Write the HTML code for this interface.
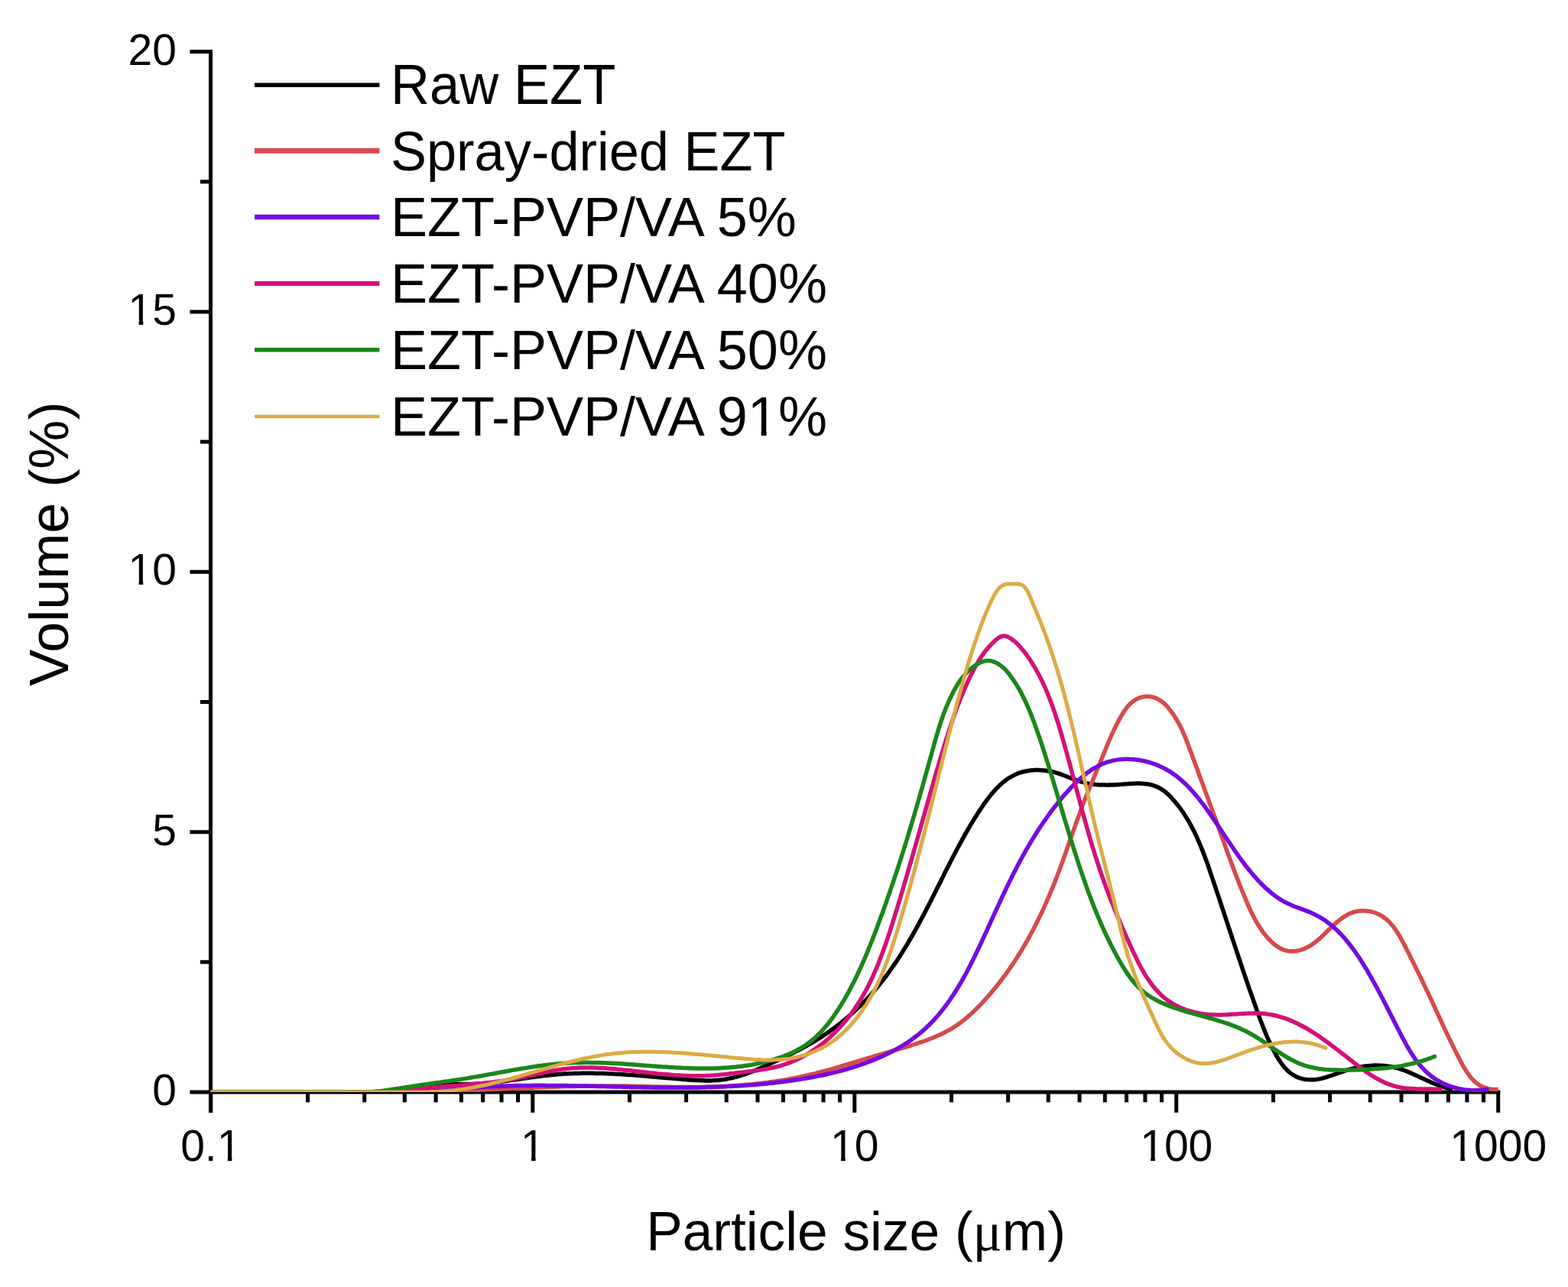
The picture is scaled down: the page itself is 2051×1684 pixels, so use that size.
<!DOCTYPE html>
<html><head><meta charset="utf-8"><style>html,body{margin:0;padding:0;background:#fff;overflow:hidden}svg{display:block}</style></head>
<body><svg xmlns="http://www.w3.org/2000/svg" width="2051" height="1684" viewBox="0 0 2051 1684"><defs><clipPath id="plotclip"><rect x="275.5" y="60" width="1684.2" height="1369"/></clipPath><clipPath id="c1"><rect x="-1832.4013671875" y="-1234.6999999999998" width="4000" height="1994.74"/><rect x="-1832.4013671875" y="760.04" width="2003.14" height="2000"/><rect x="181.63" y="760.04" width="5.64" height="2000"/><rect x="197.72" y="760.04" width="2000" height="2000"/><rect x="-1832.4013671875" y="766.80" width="4000" height="2000"/></clipPath><clipPath id="c2"><rect x="-1832.4013671875" y="-1575.05" width="4000" height="1994.74"/><rect x="-1832.4013671875" y="419.69" width="2003.14" height="2000"/><rect x="181.63" y="419.69" width="5.64" height="2000"/><rect x="197.72" y="419.69" width="2000" height="2000"/><rect x="-1832.4013671875" y="426.45" width="4000" height="2000"/></clipPath><clipPath id="c3"><rect x="-1763.818896484375" y="-481" width="4000" height="1994.74"/><rect x="-1763.818896484375" y="1513.74" width="2050.67" height="2000"/><rect x="297.74" y="1513.74" width="5.64" height="2000"/><rect x="313.83" y="1513.74" width="2000" height="2000"/><rect x="-1763.818896484375" y="1520.50" width="4000" height="2000"/></clipPath><clipPath id="c4"><rect x="-1319.070341796875" y="-481" width="4000" height="1994.74"/><rect x="-1319.070341796875" y="1513.74" width="2003.14" height="2000"/><rect x="694.96" y="1513.74" width="5.64" height="2000"/><rect x="711.05" y="1513.74" width="2000" height="2000"/><rect x="-1319.070341796875" y="1520.50" width="4000" height="2000"/></clipPath><clipPath id="c5"><rect x="-913.94068359375" y="-481" width="4000" height="1994.74"/><rect x="-913.94068359375" y="1513.74" width="2003.14" height="2000"/><rect x="1100.09" y="1513.74" width="5.64" height="2000"/><rect x="1116.18" y="1513.74" width="2000" height="2000"/><rect x="-913.94068359375" y="1520.50" width="4000" height="2000"/></clipPath><clipPath id="c6"><rect x="-508.811025390625" y="-481" width="4000" height="1994.74"/><rect x="-508.811025390625" y="1513.74" width="2003.14" height="2000"/><rect x="1505.22" y="1513.74" width="5.64" height="2000"/><rect x="1521.31" y="1513.74" width="2000" height="2000"/><rect x="-508.811025390625" y="1520.50" width="4000" height="2000"/></clipPath><clipPath id="c7"><rect x="-103.68136718749997" y="-481" width="4000" height="1994.74"/><rect x="-103.68136718749997" y="1513.74" width="2003.14" height="2000"/><rect x="1910.35" y="1513.74" width="5.64" height="2000"/><rect x="1926.44" y="1513.74" width="2000" height="2000"/><rect x="-103.68136718749997" y="1520.50" width="4000" height="2000"/></clipPath><clipPath id="c8"><rect x="-1489" y="-1430.2" width="4000" height="1993.62"/><rect x="-1489" y="563.42" width="2471.11" height="2000"/><rect x="995.63" y="563.42" width="6.96" height="2000"/><rect x="1015.56" y="563.42" width="2000" height="2000"/><rect x="-1489" y="571.30" width="4000" height="2000"/></clipPath></defs>
<rect width="100%" height="100%" fill="#fff"/>
<g stroke="#000" stroke-width="5" fill="none" stroke-linecap="butt">
<line x1="275.5" y1="65" x2="275.5" y2="1456"/>
<line x1="273" y1="1429" x2="1962.3" y2="1429"/>
<line x1="248.4" y1="1429.0" x2="275.5" y2="1429.0"/>
<line x1="248.4" y1="1088.7" x2="275.5" y2="1088.7"/>
<line x1="248.4" y1="748.3" x2="275.5" y2="748.3"/>
<line x1="248.4" y1="408.0" x2="275.5" y2="408.0"/>
<line x1="248.4" y1="67.6" x2="275.5" y2="67.6"/>
<line x1="262" y1="1258.8" x2="275.5" y2="1258.8"/>
<line x1="262" y1="918.5" x2="275.5" y2="918.5"/>
<line x1="262" y1="578.1" x2="275.5" y2="578.1"/>
<line x1="262" y1="237.8" x2="275.5" y2="237.8"/>
<line x1="275.8" y1="1429" x2="275.8" y2="1455.8"/>
<line x1="402.5" y1="1429" x2="402.5" y2="1442.3"/>
<line x1="476.7" y1="1429" x2="476.7" y2="1442.3"/>
<line x1="529.3" y1="1429" x2="529.3" y2="1442.3"/>
<line x1="570.1" y1="1429" x2="570.1" y2="1442.3"/>
<line x1="603.4" y1="1429" x2="603.4" y2="1442.3"/>
<line x1="631.6" y1="1429" x2="631.6" y2="1442.3"/>
<line x1="656.0" y1="1429" x2="656.0" y2="1442.3"/>
<line x1="677.5" y1="1429" x2="677.5" y2="1442.3"/>
<line x1="696.8" y1="1429" x2="696.8" y2="1455.8"/>
<line x1="823.5" y1="1429" x2="823.5" y2="1442.3"/>
<line x1="897.6" y1="1429" x2="897.6" y2="1442.3"/>
<line x1="950.2" y1="1429" x2="950.2" y2="1442.3"/>
<line x1="991.0" y1="1429" x2="991.0" y2="1442.3"/>
<line x1="1024.4" y1="1429" x2="1024.4" y2="1442.3"/>
<line x1="1052.5" y1="1429" x2="1052.5" y2="1442.3"/>
<line x1="1077.0" y1="1429" x2="1077.0" y2="1442.3"/>
<line x1="1098.5" y1="1429" x2="1098.5" y2="1442.3"/>
<line x1="1117.8" y1="1429" x2="1117.8" y2="1455.8"/>
<line x1="1244.5" y1="1429" x2="1244.5" y2="1442.3"/>
<line x1="1318.6" y1="1429" x2="1318.6" y2="1442.3"/>
<line x1="1371.2" y1="1429" x2="1371.2" y2="1442.3"/>
<line x1="1412.0" y1="1429" x2="1412.0" y2="1442.3"/>
<line x1="1445.3" y1="1429" x2="1445.3" y2="1442.3"/>
<line x1="1473.5" y1="1429" x2="1473.5" y2="1442.3"/>
<line x1="1497.9" y1="1429" x2="1497.9" y2="1442.3"/>
<line x1="1519.5" y1="1429" x2="1519.5" y2="1442.3"/>
<line x1="1538.7" y1="1429" x2="1538.7" y2="1455.8"/>
<line x1="1665.5" y1="1429" x2="1665.5" y2="1442.3"/>
<line x1="1739.6" y1="1429" x2="1739.6" y2="1442.3"/>
<line x1="1792.2" y1="1429" x2="1792.2" y2="1442.3"/>
<line x1="1833.0" y1="1429" x2="1833.0" y2="1442.3"/>
<line x1="1866.3" y1="1429" x2="1866.3" y2="1442.3"/>
<line x1="1894.5" y1="1429" x2="1894.5" y2="1442.3"/>
<line x1="1918.9" y1="1429" x2="1918.9" y2="1442.3"/>
<line x1="1940.5" y1="1429" x2="1940.5" y2="1442.3"/>
<line x1="1959.7" y1="1429" x2="1959.7" y2="1455.8"/>
</g>
<g clip-path="url(#plotclip)"><path d="M276.0,1429.0 L279.1,1429.0 L282.2,1429.0 L285.3,1429.0 L288.5,1429.0 L291.6,1429.0 L294.7,1429.0 L297.8,1429.0 L300.9,1429.0 L304.0,1429.0 L307.2,1429.0 L310.3,1429.0 L313.4,1429.0 L316.5,1429.0 L319.6,1429.0 L322.7,1429.0 L325.9,1429.0 L329.0,1429.0 L332.1,1429.0 L335.2,1429.0 L338.3,1429.0 L341.4,1429.0 L344.5,1429.0 L347.7,1429.0 L350.8,1429.0 L353.9,1429.0 L357.0,1429.0 L360.1,1429.0 L363.2,1429.0 L366.4,1429.0 L369.5,1429.0 L372.6,1429.0 L375.7,1429.0 L378.8,1429.0 L381.9,1429.0 L385.1,1429.0 L388.2,1429.0 L391.3,1429.0 L394.4,1429.0 L397.5,1429.0 L400.6,1429.0 L403.7,1429.0 L406.9,1429.0 L410.0,1429.0 L413.1,1429.0 L416.2,1429.0 L419.3,1429.0 L422.4,1429.0 L425.6,1429.0 L428.7,1429.0 L431.8,1429.0 L434.9,1429.0 L438.0,1429.0 L441.1,1429.0 L444.3,1429.0 L447.4,1429.0 L450.5,1429.0 L453.6,1429.0 L456.7,1429.0 L459.8,1429.0 L462.9,1429.0 L466.1,1429.0 L469.2,1429.0 L472.3,1429.0 L475.4,1429.0 L478.5,1429.0 L481.6,1429.0 L484.8,1429.0 L487.9,1429.0 L491.0,1429.0 L494.1,1429.0 L497.2,1429.0 L500.3,1428.9 L503.4,1428.8 L506.5,1428.8 L509.7,1428.6 L512.8,1428.5 L515.9,1428.2 L519.0,1428.0 L522.1,1427.7 L525.2,1427.3 L528.2,1426.9 L531.3,1426.4 L534.4,1425.8 L537.5,1425.2 L540.6,1424.5 L543.6,1423.9 L546.7,1423.2 L549.8,1422.5 L552.9,1421.9 L556.0,1421.3 L559.0,1420.8 L562.1,1420.3 L565.2,1419.9 L568.3,1419.6 L571.4,1419.3 L574.5,1419.1 L577.6,1418.9 L580.7,1418.8 L583.8,1418.7 L586.9,1418.7 L590.0,1418.7 L593.2,1418.7 L596.3,1418.7 L599.4,1418.7 L602.5,1418.7 L605.6,1418.7 L608.7,1418.6 L611.8,1418.6 L615.0,1418.5 L618.1,1418.5 L621.2,1418.3 L624.3,1418.2 L627.4,1418.0 L630.5,1417.8 L633.6,1417.5 L636.7,1417.3 L639.8,1417.0 L642.9,1416.7 L646.1,1416.3 L649.2,1416.0 L652.3,1415.6 L655.4,1415.2 L658.5,1414.8 L661.6,1414.4 L664.7,1414.0 L667.8,1413.6 L670.9,1413.1 L674.0,1412.7 L677.1,1412.3 L680.2,1411.8 L683.3,1411.4 L686.4,1410.9 L689.5,1410.5 L692.6,1410.1 L695.7,1409.6 L698.8,1409.2 L701.9,1408.8 L705.0,1408.4 L708.1,1408.0 L711.2,1407.6 L714.3,1407.3 L717.4,1406.9 L720.5,1406.6 L723.6,1406.3 L726.6,1406.0 L729.7,1405.7 L732.8,1405.5 L735.9,1405.3 L739.0,1405.1 L742.1,1404.9 L745.2,1404.8 L748.3,1404.7 L751.4,1404.5 L754.5,1404.5 L757.6,1404.4 L760.7,1404.3 L763.8,1404.3 L766.8,1404.3 L769.9,1404.3 L773.0,1404.3 L776.1,1404.3 L779.2,1404.4 L782.3,1404.5 L785.4,1404.5 L788.5,1404.6 L791.6,1404.7 L794.7,1404.8 L797.8,1405.0 L800.9,1405.1 L804.0,1405.3 L807.1,1405.4 L810.2,1405.6 L813.3,1405.8 L816.4,1406.0 L819.5,1406.2 L822.6,1406.4 L825.7,1406.6 L828.8,1406.8 L831.9,1407.1 L835.0,1407.3 L838.1,1407.6 L841.2,1407.8 L844.3,1408.1 L847.4,1408.3 L850.5,1408.6 L853.6,1408.9 L856.7,1409.1 L859.9,1409.4 L863.0,1409.7 L866.1,1409.9 L869.2,1410.2 L872.3,1410.5 L875.5,1410.8 L878.6,1411.0 L881.7,1411.3 L884.8,1411.6 L888.0,1411.8 L891.1,1412.1 L894.2,1412.4 L897.3,1412.6 L900.5,1412.9 L903.6,1413.1 L906.7,1413.3 L909.9,1413.5 L913.0,1413.6 L916.1,1413.7 L919.2,1413.8 L922.3,1413.9 L925.4,1413.9 L928.5,1413.9 L931.6,1413.8 L934.7,1413.6 L937.8,1413.4 L940.8,1413.2 L943.9,1412.8 L947.0,1412.4 L950.0,1412.0 L953.0,1411.4 L956.0,1410.8 L959.0,1410.1 L962.0,1409.4 L965.0,1408.5 L967.9,1407.7 L970.9,1406.7 L973.8,1405.8 L976.8,1404.7 L979.7,1403.7 L982.6,1402.5 L985.5,1401.4 L988.4,1400.2 L991.3,1399.0 L994.2,1397.8 L997.0,1396.5 L999.9,1395.2 L1002.8,1394.0 L1005.6,1392.7 L1008.5,1391.4 L1011.3,1390.1 L1014.1,1388.8 L1016.9,1387.5 L1019.8,1386.2 L1022.6,1384.8 L1025.4,1383.5 L1028.2,1382.2 L1030.9,1380.9 L1033.7,1379.5 L1036.5,1378.2 L1039.2,1376.8 L1042.0,1375.4 L1044.7,1374.0 L1047.5,1372.5 L1050.2,1371.1 L1052.9,1369.6 L1055.6,1368.1 L1058.3,1366.6 L1060.9,1365.0 L1063.6,1363.5 L1066.2,1361.9 L1068.9,1360.2 L1071.5,1358.6 L1074.1,1356.9 L1076.7,1355.2 L1079.3,1353.5 L1081.8,1351.7 L1084.4,1349.9 L1086.9,1348.1 L1089.4,1346.3 L1091.9,1344.5 L1094.4,1342.6 L1096.9,1340.7 L1099.3,1338.8 L1101.8,1336.9 L1104.2,1334.9 L1106.6,1332.9 L1108.9,1330.9 L1111.3,1328.9 L1113.6,1326.8 L1115.9,1324.8 L1118.2,1322.7 L1120.5,1320.5 L1122.8,1318.4 L1125.0,1316.2 L1127.2,1314.1 L1129.4,1311.9 L1131.5,1309.6 L1133.7,1307.4 L1135.8,1305.1 L1137.9,1302.9 L1140.0,1300.6 L1142.0,1298.2 L1144.0,1295.9 L1146.0,1293.5 L1148.0,1291.2 L1150.0,1288.8 L1151.9,1286.4 L1153.8,1283.9 L1155.7,1281.5 L1157.6,1279.0 L1159.5,1276.5 L1161.3,1274.1 L1163.1,1271.5 L1164.9,1269.0 L1166.7,1266.5 L1168.5,1263.9 L1170.2,1261.4 L1172.0,1258.8 L1173.7,1256.2 L1175.4,1253.6 L1177.1,1251.0 L1178.7,1248.4 L1180.4,1245.7 L1182.0,1243.1 L1183.7,1240.4 L1185.3,1237.8 L1186.9,1235.1 L1188.5,1232.4 L1190.0,1229.7 L1191.6,1227.0 L1193.2,1224.3 L1194.7,1221.6 L1196.2,1218.9 L1197.8,1216.1 L1199.3,1213.4 L1200.8,1210.7 L1202.3,1207.9 L1203.8,1205.2 L1205.2,1202.4 L1206.7,1199.6 L1208.2,1196.9 L1209.6,1194.1 L1211.1,1191.3 L1212.5,1188.5 L1213.9,1185.8 L1215.4,1183.0 L1216.8,1180.2 L1218.2,1177.4 L1219.6,1174.6 L1221.0,1171.9 L1222.4,1169.1 L1223.8,1166.3 L1225.2,1163.5 L1226.6,1160.7 L1228.0,1157.9 L1229.4,1155.2 L1230.8,1152.4 L1232.2,1149.6 L1233.6,1146.9 L1234.9,1144.1 L1236.3,1141.3 L1237.7,1138.6 L1239.1,1135.8 L1240.5,1133.1 L1241.9,1130.3 L1243.3,1127.6 L1244.7,1124.8 L1246.1,1122.1 L1247.5,1119.4 L1248.9,1116.7 L1250.4,1113.9 L1251.8,1111.2 L1253.3,1108.5 L1254.7,1105.8 L1256.2,1103.1 L1257.7,1100.4 L1259.1,1097.6 L1260.7,1094.9 L1262.2,1092.2 L1263.7,1089.5 L1265.3,1086.8 L1266.8,1084.1 L1268.4,1081.4 L1270.0,1078.7 L1271.6,1076.1 L1273.3,1073.4 L1274.9,1070.7 L1276.6,1068.0 L1278.3,1065.3 L1280.0,1062.6 L1281.8,1059.9 L1283.6,1057.2 L1285.4,1054.5 L1287.2,1051.9 L1289.1,1049.3 L1291.0,1046.7 L1292.9,1044.1 L1294.9,1041.6 L1296.9,1039.1 L1299.0,1036.7 L1301.1,1034.3 L1303.2,1032.0 L1305.4,1029.8 L1307.6,1027.6 L1309.9,1025.5 L1312.3,1023.5 L1314.7,1021.6 L1317.1,1019.8 L1319.6,1018.1 L1322.2,1016.6 L1324.8,1015.1 L1327.5,1013.7 L1330.3,1012.5 L1333.1,1011.4 L1336.1,1010.5 L1339.0,1009.7 L1342.1,1009.0 L1345.1,1008.5 L1348.2,1008.1 L1351.4,1007.8 L1354.6,1007.6 L1357.8,1007.6 L1361.0,1007.7 L1364.2,1007.9 L1367.3,1008.2 L1370.5,1008.7 L1373.7,1009.2 L1376.8,1009.9 L1379.9,1010.7 L1382.9,1011.6 L1385.9,1012.5 L1388.9,1013.6 L1391.8,1014.7 L1394.7,1015.8 L1397.6,1017.0 L1400.5,1018.1 L1403.3,1019.2 L1406.2,1020.3 L1409.1,1021.4 L1412.0,1022.3 L1414.9,1023.2 L1417.8,1023.9 L1420.8,1024.6 L1423.8,1025.2 L1426.8,1025.7 L1429.8,1026.1 L1432.8,1026.5 L1435.9,1026.7 L1438.9,1026.9 L1442.0,1027.1 L1445.1,1027.1 L1448.3,1027.2 L1451.4,1027.1 L1454.6,1027.0 L1457.8,1026.9 L1461.0,1026.7 L1464.2,1026.5 L1467.4,1026.3 L1470.7,1026.0 L1473.9,1025.8 L1477.1,1025.6 L1480.3,1025.4 L1483.5,1025.2 L1486.7,1025.1 L1489.9,1025.1 L1493.0,1025.2 L1496.1,1025.4 L1499.1,1025.7 L1502.1,1026.1 L1506.0,1027.0 L1509.8,1028.1 L1513.4,1029.5 L1516.9,1031.3 L1520.3,1033.4 L1522.8,1035.1 L1525.2,1037.0 L1527.5,1039.1 L1529.7,1041.2 L1531.9,1043.5 L1534.0,1045.8 L1536.1,1048.1 L1538.1,1050.5 L1540.1,1053.0 L1542.0,1055.4 L1543.9,1057.9 L1545.7,1060.5 L1547.5,1063.0 L1549.2,1065.6 L1550.8,1068.2 L1552.5,1070.8 L1554.1,1073.5 L1555.6,1076.1 L1557.1,1078.8 L1558.6,1081.6 L1560.0,1084.3 L1561.5,1087.1 L1562.8,1089.8 L1564.2,1092.6 L1565.5,1095.4 L1566.7,1098.3 L1568.0,1101.1 L1569.2,1104.0 L1570.4,1106.8 L1571.6,1109.7 L1572.8,1112.6 L1573.9,1115.5 L1575.0,1118.4 L1576.1,1121.4 L1577.2,1124.3 L1578.3,1127.2 L1579.3,1130.2 L1580.4,1133.1 L1581.4,1136.1 L1582.4,1139.1 L1583.4,1142.0 L1584.4,1145.0 L1585.4,1148.0 L1586.4,1150.9 L1587.4,1153.9 L1588.4,1156.9 L1589.4,1159.9 L1590.4,1162.8 L1591.4,1165.8 L1592.4,1168.8 L1593.4,1171.7 L1594.4,1174.7 L1595.4,1177.7 L1596.4,1180.7 L1597.3,1183.6 L1598.3,1186.6 L1599.3,1189.6 L1600.3,1192.5 L1601.3,1195.5 L1602.2,1198.5 L1603.2,1201.4 L1604.2,1204.4 L1605.2,1207.4 L1606.2,1210.3 L1607.1,1213.3 L1608.1,1216.2 L1609.1,1219.2 L1610.1,1222.2 L1611.1,1225.1 L1612.0,1228.1 L1613.0,1231.0 L1614.0,1234.0 L1615.0,1236.9 L1616.0,1239.9 L1616.9,1242.8 L1617.9,1245.8 L1618.9,1248.7 L1619.9,1251.7 L1620.9,1254.6 L1621.9,1257.6 L1622.9,1260.5 L1623.8,1263.5 L1624.8,1266.4 L1625.8,1269.3 L1626.8,1272.3 L1627.8,1275.2 L1628.8,1278.1 L1629.8,1281.1 L1630.8,1284.0 L1631.8,1286.9 L1632.8,1289.8 L1633.8,1292.8 L1634.8,1295.7 L1635.9,1298.6 L1636.9,1301.5 L1637.9,1304.4 L1638.9,1307.4 L1639.9,1310.3 L1641.0,1313.2 L1642.0,1316.1 L1643.0,1319.0 L1644.0,1321.9 L1645.1,1324.8 L1646.1,1327.7 L1647.2,1330.6 L1648.2,1333.5 L1649.3,1336.3 L1650.4,1339.2 L1651.5,1342.1 L1652.7,1345.0 L1653.8,1347.9 L1655.0,1350.8 L1656.2,1353.7 L1657.4,1356.6 L1658.7,1359.4 L1660.0,1362.3 L1661.4,1365.2 L1662.8,1368.1 L1664.2,1371.0 L1665.7,1373.9 L1667.2,1376.8 L1668.8,1379.7 L1670.4,1382.6 L1672.1,1385.4 L1673.9,1388.1 L1675.7,1390.8 L1677.6,1393.4 L1679.6,1395.9 L1681.7,1398.3 L1683.9,1400.5 L1686.2,1402.6 L1688.5,1404.5 L1691.0,1406.2 L1694.5,1408.2 L1698.1,1409.9 L1700.9,1410.8 L1703.9,1411.6 L1706.8,1412.2 L1709.8,1412.6 L1712.9,1412.8 L1716.0,1412.8 L1719.0,1412.7 L1722.1,1412.4 L1725.2,1411.9 L1728.2,1411.3 L1731.3,1410.5 L1734.3,1409.7 L1737.3,1408.7 L1740.4,1407.7 L1743.4,1406.7 L1746.4,1405.6 L1749.5,1404.5 L1752.5,1403.4 L1755.5,1402.3 L1758.5,1401.3 L1761.6,1400.4 L1764.6,1399.5 L1767.6,1398.6 L1770.7,1397.9 L1773.7,1397.2 L1776.8,1396.5 L1779.8,1396.0 L1782.8,1395.5 L1785.9,1395.0 L1788.9,1394.7 L1792.0,1394.4 L1795.0,1394.2 L1798.0,1394.1 L1801.1,1394.1 L1804.1,1394.2 L1807.1,1394.3 L1810.1,1394.5 L1813.1,1394.8 L1816.1,1395.2 L1819.1,1395.7 L1822.1,1396.3 L1825.1,1397.0 L1828.0,1397.7 L1831.0,1398.6 L1833.9,1399.5 L1836.8,1400.6 L1839.8,1401.7 L1842.7,1402.9 L1845.6,1404.1 L1848.5,1405.4 L1851.4,1406.7 L1854.3,1408.0 L1857.2,1409.4 L1860.1,1410.8 L1863.0,1412.1 L1865.9,1413.5 L1868.8,1414.8 L1871.7,1416.1 L1874.6,1417.3 L1877.5,1418.5 L1880.4,1419.6 L1883.3,1420.7 L1886.2,1421.7 L1889.2,1422.5 L1892.1,1423.3 L1895.0,1424.0 L1898.0,1424.5 L1898.0,1424.5" fill="none" stroke="#000000" stroke-width="5.5" stroke-linejoin="round" stroke-linecap="round"/>
<path d="M276.0,1429.0 L279.5,1429.0 L282.9,1429.0 L286.4,1429.0 L289.9,1429.0 L293.4,1429.0 L296.8,1429.0 L300.3,1429.0 L303.8,1429.0 L307.2,1429.0 L310.7,1429.0 L314.2,1429.0 L317.7,1429.0 L321.1,1429.0 L324.6,1429.0 L328.1,1429.0 L331.6,1429.0 L335.0,1429.0 L338.5,1429.0 L342.0,1429.0 L345.4,1429.0 L348.9,1429.0 L352.4,1429.0 L355.9,1429.0 L359.3,1429.0 L362.8,1429.0 L366.3,1429.0 L369.7,1429.0 L373.2,1429.0 L376.7,1429.0 L380.2,1429.0 L383.6,1429.0 L387.1,1429.0 L390.6,1429.0 L394.1,1429.0 L397.5,1429.0 L401.0,1429.0 L404.5,1429.0 L407.9,1429.0 L411.4,1429.0 L414.9,1429.0 L418.4,1429.0 L421.8,1429.1 L425.3,1429.1 L428.8,1429.1 L432.2,1429.1 L435.7,1429.1 L439.2,1429.0 L442.7,1429.0 L446.1,1429.0 L449.6,1429.0 L453.1,1429.0 L456.5,1429.0 L460.0,1429.0 L463.5,1429.0 L467.0,1429.0 L470.4,1429.0 L473.9,1429.0 L477.4,1429.0 L480.8,1429.0 L484.3,1429.0 L487.8,1428.9 L491.3,1428.9 L494.7,1428.9 L498.2,1428.9 L501.7,1428.9 L505.1,1428.8 L508.6,1428.8 L512.1,1428.8 L515.6,1428.8 L519.0,1428.7 L522.5,1428.7 L526.0,1428.7 L529.4,1428.6 L532.9,1428.6 L536.4,1428.5 L539.9,1428.5 L543.3,1428.4 L546.8,1428.4 L550.3,1428.3 L553.7,1428.3 L557.2,1428.2 L560.7,1428.1 L564.2,1428.1 L567.6,1428.0 L571.1,1427.9 L574.6,1427.8 L578.0,1427.8 L581.5,1427.7 L585.0,1427.6 L588.5,1427.5 L591.9,1427.4 L595.4,1427.3 L598.9,1427.2 L602.3,1427.1 L605.8,1426.9 L609.3,1426.8 L612.8,1426.7 L616.2,1426.6 L619.7,1426.4 L623.2,1426.3 L626.6,1426.2 L630.1,1426.0 L633.6,1425.9 L637.1,1425.7 L640.5,1425.6 L644.0,1425.5 L647.5,1425.3 L651.0,1425.2 L654.4,1425.0 L657.9,1424.9 L661.4,1424.7 L664.8,1424.6 L668.3,1424.4 L671.8,1424.3 L675.3,1424.1 L678.7,1423.9 L682.2,1423.8 L685.7,1423.7 L689.1,1423.5 L692.6,1423.4 L696.1,1423.2 L699.6,1423.1 L703.0,1422.9 L706.5,1422.8 L710.0,1422.7 L713.4,1422.5 L716.9,1422.4 L720.4,1422.3 L723.8,1422.2 L727.3,1422.0 L730.8,1421.9 L734.2,1421.8 L737.7,1421.7 L741.2,1421.6 L744.7,1421.5 L748.1,1421.4 L751.6,1421.4 L755.1,1421.3 L758.5,1421.2 L762.0,1421.1 L765.5,1421.1 L768.9,1421.0 L772.4,1421.0 L775.9,1421.0 L779.3,1420.9 L782.8,1420.9 L786.2,1420.9 L789.7,1420.9 L793.2,1420.9 L796.6,1420.9 L800.1,1420.9 L803.6,1420.9 L807.0,1421.0 L810.5,1421.0 L813.9,1421.1 L817.4,1421.1 L820.9,1421.2 L824.3,1421.3 L827.8,1421.3 L831.3,1421.4 L834.7,1421.5 L838.2,1421.6 L841.6,1421.7 L845.1,1421.7 L848.6,1421.8 L852.0,1421.9 L855.5,1422.0 L859.0,1422.0 L862.5,1422.1 L865.9,1422.2 L869.4,1422.2 L872.9,1422.3 L876.4,1422.3 L879.8,1422.4 L883.3,1422.4 L886.8,1422.5 L890.3,1422.5 L893.8,1422.5 L897.3,1422.5 L900.7,1422.5 L904.2,1422.5 L907.7,1422.4 L911.2,1422.4 L914.7,1422.4 L918.2,1422.3 L921.7,1422.2 L925.2,1422.1 L928.7,1422.1 L932.1,1421.9 L935.6,1421.8 L939.1,1421.7 L942.6,1421.6 L946.1,1421.4 L949.6,1421.2 L953.0,1421.0 L956.5,1420.8 L960.0,1420.6 L963.5,1420.4 L967.0,1420.1 L970.4,1419.9 L973.9,1419.6 L977.4,1419.3 L980.8,1419.0 L984.3,1418.7 L987.7,1418.3 L991.2,1417.9 L994.6,1417.6 L998.1,1417.1 L1001.5,1416.7 L1005.0,1416.3 L1008.4,1415.8 L1011.8,1415.3 L1015.3,1414.8 L1018.7,1414.3 L1022.1,1413.7 L1025.5,1413.2 L1028.9,1412.6 L1032.3,1412.0 L1035.7,1411.3 L1039.1,1410.7 L1042.5,1410.0 L1045.9,1409.3 L1049.3,1408.5 L1052.6,1407.8 L1056.0,1407.0 L1059.3,1406.2 L1062.7,1405.4 L1066.1,1404.6 L1069.4,1403.7 L1072.7,1402.9 L1076.1,1402.0 L1079.4,1401.1 L1082.8,1400.2 L1086.1,1399.3 L1089.4,1398.3 L1092.8,1397.4 L1096.1,1396.4 L1099.4,1395.5 L1102.7,1394.5 L1106.1,1393.5 L1109.4,1392.5 L1112.7,1391.5 L1116.0,1390.5 L1119.4,1389.5 L1122.7,1388.5 L1126.0,1387.5 L1129.4,1386.5 L1132.7,1385.4 L1136.0,1384.4 L1139.4,1383.4 L1142.7,1382.4 L1146.0,1381.4 L1149.4,1380.4 L1152.7,1379.3 L1156.1,1378.3 L1159.4,1377.3 L1162.8,1376.4 L1166.2,1375.4 L1169.5,1374.4 L1172.9,1373.4 L1176.3,1372.4 L1179.6,1371.5 L1183.0,1370.5 L1186.4,1369.5 L1189.7,1368.5 L1193.1,1367.4 L1196.4,1366.4 L1199.7,1365.3 L1203.0,1364.2 L1206.3,1363.1 L1209.6,1362.0 L1212.9,1360.8 L1216.1,1359.5 L1219.3,1358.3 L1222.5,1357.0 L1225.6,1355.6 L1228.8,1354.2 L1231.9,1352.7 L1235.0,1351.2 L1238.0,1349.6 L1241.0,1348.0 L1244.0,1346.3 L1246.9,1344.5 L1249.8,1342.7 L1252.7,1340.8 L1255.5,1338.8 L1258.2,1336.7 L1261.0,1334.6 L1263.6,1332.4 L1266.3,1330.1 L1268.9,1327.8 L1271.5,1325.4 L1274.0,1323.0 L1276.5,1320.6 L1279.0,1318.1 L1281.5,1315.6 L1283.9,1313.1 L1286.3,1310.5 L1288.6,1307.9 L1291.0,1305.3 L1293.3,1302.7 L1295.6,1300.0 L1297.8,1297.3 L1300.0,1294.7 L1302.3,1292.0 L1304.4,1289.3 L1306.6,1286.5 L1308.7,1283.8 L1310.8,1281.0 L1312.9,1278.2 L1315.0,1275.4 L1317.0,1272.6 L1319.0,1269.8 L1321.0,1266.9 L1322.9,1264.1 L1324.9,1261.2 L1326.8,1258.3 L1328.7,1255.4 L1330.6,1252.5 L1332.4,1249.5 L1334.2,1246.6 L1336.1,1243.6 L1337.8,1240.6 L1339.6,1237.7 L1341.3,1234.7 L1343.1,1231.7 L1344.8,1228.6 L1346.4,1225.6 L1348.1,1222.5 L1349.7,1219.5 L1351.4,1216.4 L1353.0,1213.3 L1354.6,1210.3 L1356.1,1207.2 L1357.7,1204.0 L1359.2,1200.9 L1360.7,1197.8 L1362.2,1194.7 L1363.7,1191.5 L1365.1,1188.4 L1366.6,1185.2 L1368.0,1182.0 L1369.4,1178.8 L1370.8,1175.7 L1372.2,1172.5 L1373.5,1169.3 L1374.9,1166.1 L1376.2,1162.8 L1377.5,1159.6 L1378.8,1156.4 L1380.1,1153.2 L1381.3,1149.9 L1382.6,1146.7 L1383.8,1143.4 L1385.1,1140.2 L1386.3,1136.9 L1387.5,1133.7 L1388.7,1130.4 L1389.9,1127.2 L1391.0,1123.9 L1392.2,1120.6 L1393.4,1117.4 L1394.5,1114.1 L1395.7,1110.8 L1396.8,1107.5 L1398.0,1104.3 L1399.1,1101.0 L1400.3,1097.7 L1401.4,1094.4 L1402.6,1091.2 L1403.7,1087.9 L1404.9,1084.6 L1406.0,1081.3 L1407.2,1078.1 L1408.4,1074.8 L1409.5,1071.6 L1410.7,1068.3 L1411.9,1065.1 L1413.1,1061.8 L1414.3,1058.6 L1415.5,1055.3 L1416.8,1052.1 L1418.0,1048.9 L1419.3,1045.6 L1420.5,1042.4 L1421.8,1039.2 L1423.1,1036.0 L1424.4,1032.8 L1425.7,1029.6 L1427.1,1026.4 L1428.4,1023.2 L1429.7,1020.1 L1431.0,1016.9 L1432.4,1013.7 L1433.7,1010.5 L1435.0,1007.3 L1436.4,1004.2 L1437.7,1001.0 L1439.0,997.8 L1440.3,994.6 L1441.6,991.5 L1442.9,988.3 L1444.2,985.1 L1445.5,981.9 L1446.8,978.7 L1448.1,975.5 L1449.4,972.3 L1450.8,969.1 L1452.2,965.9 L1453.6,962.6 L1455.1,959.4 L1456.6,956.1 L1458.2,952.8 L1459.8,949.5 L1461.5,946.2 L1463.3,942.8 L1465.1,939.4 L1467.1,936.0 L1469.1,932.7 L1471.3,929.4 L1473.6,926.3 L1475.9,923.4 L1478.4,920.8 L1481.0,918.5 L1483.8,916.5 L1486.6,914.8 L1489.5,913.4 L1492.5,912.4 L1495.6,911.7 L1498.6,911.3 L1501.7,911.2 L1504.8,911.5 L1507.8,912.1 L1510.9,913.0 L1513.8,914.3 L1516.7,915.9 L1519.5,917.8 L1522.2,920.0 L1524.9,922.5 L1527.4,925.2 L1529.7,928.1 L1532.0,931.0 L1534.2,934.0 L1536.2,937.1 L1538.1,940.2 L1540.0,943.3 L1541.7,946.4 L1543.4,949.6 L1545.0,952.8 L1546.6,956.1 L1548.0,959.3 L1549.4,962.6 L1550.8,965.9 L1552.1,969.2 L1553.4,972.5 L1554.7,975.9 L1555.9,979.2 L1557.1,982.5 L1558.3,985.8 L1559.5,989.1 L1560.7,992.4 L1562.0,995.7 L1563.2,999.0 L1564.4,1002.2 L1565.6,1005.5 L1566.8,1008.7 L1568.0,1012.0 L1569.2,1015.2 L1570.3,1018.5 L1571.5,1021.7 L1572.7,1024.9 L1573.9,1028.1 L1575.1,1031.4 L1576.3,1034.6 L1577.5,1037.8 L1578.7,1041.0 L1579.9,1044.2 L1581.0,1047.5 L1582.2,1050.7 L1583.4,1053.9 L1584.6,1057.1 L1585.8,1060.4 L1586.9,1063.6 L1588.1,1066.8 L1589.3,1070.1 L1590.5,1073.3 L1591.7,1076.5 L1592.8,1079.8 L1594.0,1083.1 L1595.2,1086.3 L1596.3,1089.6 L1597.5,1092.9 L1598.7,1096.2 L1599.9,1099.4 L1601.1,1102.7 L1602.2,1106.0 L1603.4,1109.3 L1604.6,1112.6 L1605.8,1115.9 L1607.0,1119.2 L1608.2,1122.4 L1609.4,1125.7 L1610.6,1129.0 L1611.8,1132.3 L1613.0,1135.6 L1614.3,1138.8 L1615.5,1142.1 L1616.7,1145.4 L1618.0,1148.6 L1619.3,1151.8 L1620.5,1155.1 L1621.8,1158.3 L1623.1,1161.5 L1624.4,1164.7 L1625.7,1167.9 L1627.0,1171.1 L1628.3,1174.3 L1629.6,1177.5 L1631.0,1180.6 L1632.4,1183.8 L1633.7,1186.9 L1635.1,1190.0 L1636.6,1193.1 L1638.1,1196.2 L1639.6,1199.2 L1641.2,1202.3 L1642.9,1205.3 L1644.6,1208.3 L1646.5,1211.3 L1648.4,1214.3 L1650.4,1217.3 L1652.5,1220.2 L1654.8,1223.1 L1657.1,1225.9 L1659.5,1228.7 L1662.1,1231.3 L1664.7,1233.8 L1667.4,1236.1 L1670.3,1238.2 L1673.2,1240.0 L1676.1,1241.6 L1679.2,1242.9 L1682.3,1243.8 L1685.5,1244.4 L1688.8,1244.7 L1692.1,1244.7 L1695.4,1244.3 L1698.7,1243.7 L1701.9,1242.8 L1705.2,1241.7 L1708.3,1240.3 L1711.4,1238.8 L1714.4,1237.0 L1717.4,1235.1 L1720.2,1232.9 L1723.0,1230.7 L1725.7,1228.4 L1728.4,1225.9 L1731.1,1223.4 L1733.7,1220.8 L1736.4,1218.3 L1739.0,1215.7 L1741.7,1213.1 L1744.4,1210.6 L1747.1,1208.1 L1749.9,1205.7 L1752.7,1203.4 L1755.6,1201.3 L1758.5,1199.3 L1761.5,1197.5 L1764.5,1195.9 L1767.6,1194.6 L1770.8,1193.4 L1774.1,1192.6 L1777.4,1192.0 L1780.7,1191.7 L1784.1,1191.7 L1787.4,1191.9 L1790.8,1192.3 L1794.1,1193.0 L1797.4,1193.9 L1800.6,1195.1 L1803.7,1196.5 L1806.7,1198.1 L1809.6,1199.9 L1812.3,1202.0 L1815.0,1204.2 L1817.5,1206.7 L1819.8,1209.3 L1822.1,1212.0 L1824.3,1214.9 L1826.3,1217.8 L1828.3,1220.9 L1830.2,1224.0 L1832.0,1227.1 L1833.7,1230.3 L1835.4,1233.5 L1837.1,1236.6 L1838.7,1239.8 L1840.3,1242.9 L1841.9,1246.1 L1843.5,1249.2 L1845.0,1252.3 L1846.6,1255.4 L1848.1,1258.5 L1849.7,1261.6 L1851.2,1264.7 L1852.7,1267.8 L1854.3,1270.9 L1855.8,1274.0 L1857.3,1277.1 L1858.8,1280.2 L1860.3,1283.2 L1861.8,1286.3 L1863.2,1289.4 L1864.7,1292.5 L1866.2,1295.6 L1867.7,1298.7 L1869.1,1301.8 L1870.6,1304.9 L1872.0,1308.0 L1873.5,1311.2 L1874.9,1314.3 L1876.4,1317.4 L1877.8,1320.6 L1879.3,1323.7 L1880.7,1326.9 L1882.2,1330.0 L1883.6,1333.2 L1885.1,1336.3 L1886.5,1339.5 L1888.0,1342.6 L1889.5,1345.8 L1891.0,1348.9 L1892.4,1352.1 L1893.9,1355.2 L1895.4,1358.4 L1897.0,1361.5 L1898.5,1364.7 L1900.0,1367.8 L1901.6,1371.0 L1903.1,1374.1 L1904.7,1377.3 L1906.3,1380.4 L1907.9,1383.5 L1909.5,1386.6 L1911.1,1389.8 L1912.8,1392.9 L1914.5,1395.9 L1916.3,1398.9 L1918.1,1401.8 L1920.0,1404.7 L1921.9,1407.4 L1924.0,1410.0 L1926.2,1412.4 L1928.5,1414.7 L1930.9,1416.9 L1933.5,1418.8 L1936.2,1420.5 L1939.1,1422.0 L1942.2,1423.2 L1945.4,1424.2 L1948.9,1424.9 L1952.6,1425.3 L1956.5,1425.4 L1960.6,1425.2 L1962.0,1425.0" fill="none" stroke="#d64a4c" stroke-width="5.5" stroke-linejoin="round" stroke-linecap="round"/>
<path d="M276.0,1429.0 L279.1,1429.0 L282.2,1429.0 L285.4,1429.0 L288.5,1429.0 L291.6,1429.0 L294.7,1429.0 L297.8,1429.0 L301.0,1429.0 L304.1,1429.0 L307.2,1429.0 L310.3,1429.0 L313.5,1429.0 L316.6,1429.0 L319.7,1429.0 L322.8,1429.0 L325.9,1429.0 L329.1,1429.0 L332.2,1429.0 L335.3,1429.0 L338.4,1429.0 L341.5,1429.0 L344.7,1429.0 L347.8,1429.0 L350.9,1429.0 L354.0,1429.0 L357.2,1429.0 L360.3,1429.0 L363.4,1429.0 L366.5,1429.0 L369.6,1429.0 L372.8,1429.0 L375.9,1429.0 L379.0,1429.0 L382.1,1429.0 L385.2,1429.0 L388.4,1429.0 L391.5,1429.0 L394.6,1429.0 L397.7,1429.0 L400.9,1429.0 L404.0,1429.0 L407.1,1429.0 L410.2,1429.0 L413.3,1429.0 L416.5,1429.0 L419.6,1429.0 L422.7,1429.0 L425.8,1429.0 L428.9,1429.0 L432.1,1429.0 L435.2,1429.0 L438.3,1429.0 L441.4,1429.0 L444.6,1429.0 L447.7,1429.0 L450.8,1429.0 L453.9,1429.0 L457.0,1429.0 L460.2,1429.0 L463.3,1429.0 L466.4,1429.0 L469.5,1429.0 L472.6,1429.0 L475.8,1429.0 L478.9,1429.0 L482.0,1429.0 L485.1,1429.0 L488.3,1429.0 L491.4,1429.0 L494.5,1429.0 L497.6,1429.0 L500.7,1429.0 L503.9,1429.0 L507.0,1429.0 L510.1,1429.0 L513.2,1429.0 L516.3,1429.0 L519.5,1429.0 L522.6,1429.0 L525.7,1429.0 L528.8,1429.0 L531.9,1429.0 L535.1,1429.0 L538.2,1429.0 L541.3,1429.0 L544.4,1428.9 L547.5,1428.9 L550.7,1428.8 L553.8,1428.7 L556.9,1428.6 L560.0,1428.5 L563.1,1428.3 L566.2,1428.1 L569.3,1427.8 L572.4,1427.6 L575.5,1427.3 L578.6,1427.0 L581.7,1426.7 L584.8,1426.4 L587.9,1426.0 L591.1,1425.7 L594.2,1425.4 L597.3,1425.1 L600.4,1424.8 L603.5,1424.5 L606.6,1424.2 L609.7,1423.9 L612.8,1423.6 L615.9,1423.4 L619.0,1423.1 L622.1,1422.9 L625.2,1422.7 L628.3,1422.5 L631.4,1422.3 L634.5,1422.1 L637.7,1421.9 L640.8,1421.8 L643.9,1421.6 L647.0,1421.5 L650.1,1421.4 L653.2,1421.2 L656.3,1421.1 L659.5,1421.0 L662.6,1420.9 L665.7,1420.8 L668.8,1420.7 L671.9,1420.7 L675.0,1420.6 L678.2,1420.5 L681.3,1420.5 L684.4,1420.5 L687.5,1420.4 L690.6,1420.4 L693.8,1420.4 L696.9,1420.3 L700.0,1420.3 L703.1,1420.3 L706.2,1420.3 L709.4,1420.3 L712.5,1420.3 L715.6,1420.4 L718.7,1420.4 L721.9,1420.4 L725.0,1420.4 L728.1,1420.5 L731.2,1420.5 L734.4,1420.5 L737.5,1420.6 L740.6,1420.6 L743.7,1420.7 L746.9,1420.7 L750.0,1420.8 L753.1,1420.8 L756.2,1420.9 L759.4,1420.9 L762.5,1421.0 L765.6,1421.1 L768.7,1421.1 L771.9,1421.2 L775.0,1421.3 L778.1,1421.3 L781.2,1421.4 L784.3,1421.5 L787.5,1421.6 L790.6,1421.6 L793.7,1421.7 L796.8,1421.8 L800.0,1421.8 L803.1,1421.9 L806.2,1422.0 L809.3,1422.1 L812.5,1422.1 L815.6,1422.2 L818.7,1422.3 L821.8,1422.3 L825.0,1422.4 L828.1,1422.5 L831.2,1422.5 L834.3,1422.6 L837.5,1422.6 L840.6,1422.7 L843.7,1422.7 L846.8,1422.8 L849.9,1422.8 L853.1,1422.9 L856.2,1422.9 L859.3,1422.9 L862.4,1423.0 L865.6,1423.0 L868.7,1423.0 L871.8,1423.1 L874.9,1423.1 L878.0,1423.1 L881.2,1423.1 L884.3,1423.1 L887.4,1423.1 L890.5,1423.1 L893.6,1423.1 L896.8,1423.0 L899.9,1423.0 L903.0,1423.0 L906.1,1423.0 L909.2,1422.9 L912.3,1422.9 L915.5,1422.8 L918.6,1422.8 L921.7,1422.7 L924.8,1422.6 L927.9,1422.5 L931.0,1422.4 L934.2,1422.3 L937.3,1422.2 L940.4,1422.1 L943.5,1422.0 L946.6,1421.9 L949.7,1421.7 L952.8,1421.6 L955.9,1421.4 L959.0,1421.3 L962.2,1421.1 L965.3,1420.9 L968.4,1420.7 L971.5,1420.5 L974.6,1420.3 L977.7,1420.1 L980.8,1419.8 L983.9,1419.6 L987.0,1419.4 L990.1,1419.1 L993.2,1418.8 L996.3,1418.5 L999.4,1418.2 L1002.5,1417.9 L1005.6,1417.6 L1008.8,1417.3 L1011.9,1416.9 L1015.0,1416.6 L1018.1,1416.2 L1021.2,1415.8 L1024.3,1415.5 L1027.4,1415.0 L1030.4,1414.6 L1033.5,1414.2 L1036.6,1413.8 L1039.7,1413.3 L1042.8,1412.8 L1045.9,1412.4 L1049.0,1411.9 L1052.1,1411.3 L1055.2,1410.8 L1058.3,1410.3 L1061.4,1409.7 L1064.5,1409.1 L1067.5,1408.5 L1070.6,1407.9 L1073.7,1407.3 L1076.8,1406.7 L1079.8,1406.0 L1082.9,1405.3 L1085.9,1404.6 L1089.0,1403.9 L1092.0,1403.1 L1095.1,1402.4 L1098.1,1401.6 L1101.1,1400.8 L1104.2,1399.9 L1107.2,1399.1 L1110.2,1398.2 L1113.2,1397.3 L1116.2,1396.4 L1119.2,1395.4 L1122.2,1394.5 L1125.2,1393.5 L1128.1,1392.4 L1131.1,1391.4 L1134.0,1390.3 L1137.0,1389.2 L1139.9,1388.1 L1142.8,1386.9 L1145.7,1385.7 L1148.6,1384.5 L1151.4,1383.3 L1154.3,1382.0 L1157.1,1380.7 L1159.9,1379.3 L1162.7,1378.0 L1165.5,1376.6 L1168.2,1375.1 L1171.0,1373.7 L1173.7,1372.2 L1176.3,1370.6 L1179.0,1369.1 L1181.6,1367.5 L1184.2,1365.8 L1186.8,1364.2 L1189.3,1362.5 L1191.9,1360.7 L1194.3,1358.9 L1196.8,1357.1 L1199.2,1355.2 L1201.6,1353.4 L1204.0,1351.4 L1206.3,1349.4 L1208.6,1347.4 L1210.8,1345.4 L1213.0,1343.3 L1215.2,1341.2 L1217.4,1339.0 L1219.5,1336.8 L1221.6,1334.6 L1223.6,1332.3 L1225.7,1330.0 L1227.7,1327.7 L1229.6,1325.3 L1231.6,1322.9 L1233.5,1320.5 L1235.4,1318.1 L1237.2,1315.6 L1239.1,1313.1 L1240.9,1310.6 L1242.7,1308.0 L1244.4,1305.4 L1246.2,1302.8 L1247.9,1300.2 L1249.6,1297.6 L1251.2,1294.9 L1252.9,1292.2 L1254.5,1289.5 L1256.1,1286.8 L1257.7,1284.1 L1259.3,1281.3 L1260.8,1278.6 L1262.4,1275.8 L1263.9,1273.0 L1265.4,1270.2 L1266.9,1267.4 L1268.4,1264.5 L1269.8,1261.7 L1271.3,1258.8 L1272.7,1256.0 L1274.1,1253.1 L1275.5,1250.2 L1276.9,1247.3 L1278.3,1244.4 L1279.7,1241.5 L1281.1,1238.6 L1282.4,1235.7 L1283.8,1232.8 L1285.1,1229.9 L1286.5,1227.0 L1287.8,1224.1 L1289.1,1221.2 L1290.5,1218.3 L1291.8,1215.4 L1293.1,1212.5 L1294.4,1209.6 L1295.7,1206.7 L1297.0,1203.9 L1298.3,1201.0 L1299.6,1198.1 L1300.9,1195.3 L1302.2,1192.4 L1303.5,1189.6 L1304.9,1186.7 L1306.2,1183.9 L1307.5,1181.1 L1308.8,1178.2 L1310.1,1175.4 L1311.4,1172.6 L1312.7,1169.8 L1314.0,1167.0 L1315.4,1164.2 L1316.7,1161.4 L1318.0,1158.6 L1319.4,1155.9 L1320.7,1153.1 L1322.1,1150.4 L1323.5,1147.6 L1324.8,1144.9 L1326.2,1142.1 L1327.6,1139.4 L1329.0,1136.7 L1330.4,1133.9 L1331.9,1131.2 L1333.3,1128.5 L1334.7,1125.8 L1336.2,1123.1 L1337.6,1120.4 L1339.1,1117.8 L1340.6,1115.1 L1342.1,1112.4 L1343.6,1109.8 L1345.2,1107.1 L1346.7,1104.5 L1348.3,1101.9 L1349.9,1099.2 L1351.5,1096.6 L1353.1,1094.0 L1354.7,1091.4 L1356.4,1088.8 L1358.0,1086.2 L1359.7,1083.6 L1361.4,1081.0 L1363.2,1078.5 L1364.9,1075.9 L1366.7,1073.4 L1368.5,1070.8 L1370.3,1068.3 L1372.1,1065.7 L1373.9,1063.2 L1375.8,1060.7 L1377.7,1058.2 L1379.6,1055.7 L1381.6,1053.2 L1383.6,1050.7 L1385.6,1048.2 L1387.6,1045.8 L1389.6,1043.3 L1391.7,1040.8 L1393.8,1038.4 L1396.0,1036.0 L1398.1,1033.6 L1400.3,1031.2 L1402.5,1028.9 L1404.8,1026.6 L1407.1,1024.3 L1409.4,1022.1 L1411.7,1019.9 L1414.1,1017.8 L1416.5,1015.7 L1419.0,1013.7 L1421.5,1011.8 L1424.0,1009.9 L1426.6,1008.1 L1429.2,1006.4 L1431.8,1004.8 L1434.5,1003.3 L1437.2,1001.9 L1439.9,1000.6 L1442.7,999.3 L1445.6,998.2 L1448.4,997.2 L1451.4,996.3 L1454.3,995.6 L1457.3,994.9 L1460.4,994.4 L1463.4,993.9 L1466.5,993.6 L1469.6,993.4 L1472.7,993.3 L1475.8,993.3 L1478.9,993.4 L1482.0,993.6 L1485.2,993.9 L1488.3,994.3 L1491.4,994.8 L1494.5,995.4 L1497.6,996.0 L1500.7,996.8 L1503.7,997.7 L1506.7,998.6 L1509.7,999.6 L1512.7,1000.7 L1515.6,1001.9 L1518.4,1003.2 L1521.2,1004.6 L1524.0,1006.0 L1526.7,1007.5 L1529.4,1009.1 L1532.0,1010.7 L1534.5,1012.5 L1537.0,1014.3 L1539.5,1016.1 L1541.9,1018.0 L1544.2,1020.0 L1546.5,1022.0 L1548.8,1024.1 L1551.1,1026.2 L1553.2,1028.4 L1555.4,1030.6 L1557.5,1032.9 L1559.6,1035.2 L1561.7,1037.5 L1563.7,1039.9 L1565.7,1042.3 L1567.7,1044.7 L1569.6,1047.2 L1571.5,1049.7 L1573.4,1052.2 L1575.3,1054.7 L1577.2,1057.2 L1579.0,1059.8 L1580.9,1062.3 L1582.7,1064.9 L1584.5,1067.5 L1586.3,1070.1 L1588.1,1072.7 L1589.8,1075.3 L1591.6,1077.9 L1593.4,1080.5 L1595.1,1083.2 L1596.9,1085.8 L1598.6,1088.4 L1600.3,1091.0 L1602.1,1093.7 L1603.8,1096.3 L1605.6,1098.9 L1607.3,1101.5 L1609.1,1104.1 L1610.8,1106.7 L1612.6,1109.3 L1614.4,1111.9 L1616.1,1114.5 L1617.9,1117.0 L1619.7,1119.6 L1621.5,1122.1 L1623.4,1124.6 L1625.2,1127.1 L1627.1,1129.6 L1628.9,1132.1 L1630.8,1134.5 L1632.8,1136.9 L1634.7,1139.3 L1636.6,1141.7 L1638.6,1144.1 L1640.6,1146.4 L1642.7,1148.7 L1644.7,1151.0 L1646.8,1153.2 L1649.0,1155.5 L1651.1,1157.6 L1653.3,1159.8 L1655.5,1161.9 L1657.8,1163.9 L1660.1,1165.9 L1662.4,1167.9 L1664.8,1169.8 L1667.2,1171.7 L1669.7,1173.5 L1672.2,1175.2 L1674.8,1176.9 L1677.5,1178.5 L1680.1,1180.0 L1682.9,1181.4 L1685.7,1182.8 L1688.5,1184.1 L1691.4,1185.4 L1694.4,1186.5 L1697.4,1187.6 L1700.4,1188.7 L1703.4,1189.8 L1706.4,1190.9 L1709.4,1192.1 L1712.4,1193.2 L1715.3,1194.4 L1718.1,1195.7 L1720.9,1197.1 L1723.7,1198.6 L1726.4,1200.1 L1729.0,1201.7 L1731.6,1203.3 L1734.1,1205.1 L1736.6,1206.9 L1739.0,1208.7 L1741.4,1210.6 L1743.7,1212.6 L1746.0,1214.6 L1748.3,1216.7 L1750.5,1218.8 L1752.6,1221.0 L1754.7,1223.2 L1756.8,1225.5 L1758.9,1227.8 L1760.9,1230.2 L1762.8,1232.5 L1764.8,1235.0 L1766.7,1237.4 L1768.5,1239.9 L1770.4,1242.4 L1772.2,1244.9 L1774.0,1247.5 L1775.7,1250.0 L1777.5,1252.6 L1779.2,1255.2 L1780.8,1257.9 L1782.5,1260.5 L1784.1,1263.1 L1785.8,1265.8 L1787.4,1268.4 L1789.0,1271.1 L1790.5,1273.8 L1792.1,1276.5 L1793.6,1279.2 L1795.1,1281.9 L1796.7,1284.6 L1798.2,1287.3 L1799.6,1290.0 L1801.1,1292.7 L1802.6,1295.5 L1804.0,1298.2 L1805.5,1301.0 L1806.9,1303.7 L1808.4,1306.5 L1809.8,1309.2 L1811.2,1312.0 L1812.7,1314.8 L1814.1,1317.6 L1815.5,1320.4 L1816.9,1323.2 L1818.3,1326.0 L1819.7,1328.8 L1821.2,1331.6 L1822.6,1334.4 L1824.0,1337.2 L1825.4,1340.0 L1826.9,1342.9 L1828.3,1345.7 L1829.8,1348.5 L1831.2,1351.4 L1832.7,1354.2 L1834.1,1357.0 L1835.6,1359.9 L1837.2,1362.7 L1838.7,1365.5 L1840.2,1368.3 L1841.8,1371.0 L1843.4,1373.7 L1845.1,1376.4 L1846.8,1379.1 L1848.5,1381.7 L1850.2,1384.3 L1852.0,1386.8 L1853.9,1389.3 L1855.8,1391.7 L1857.7,1394.1 L1859.7,1396.4 L1861.8,1398.6 L1863.9,1400.8 L1866.1,1402.9 L1868.3,1404.9 L1870.6,1406.9 L1873.0,1408.7 L1875.4,1410.5 L1877.9,1412.1 L1880.5,1413.7 L1883.1,1415.2 L1885.8,1416.7 L1888.5,1418.0 L1891.3,1419.2 L1894.2,1420.4 L1897.0,1421.4 L1900.0,1422.4 L1902.9,1423.2 L1905.9,1424.0 L1909.0,1424.7 L1912.0,1425.2 L1915.1,1425.7 L1918.3,1426.1 L1921.4,1426.4 L1924.6,1426.6 L1927.8,1426.7 L1931.0,1426.6 L1934.2,1426.5 L1937.4,1426.3 L1940.7,1426.0 L1943.9,1425.6 L1945.0,1425.4" fill="none" stroke="#750ae0" stroke-width="5.5" stroke-linejoin="round" stroke-linecap="round"/>
<path d="M276.0,1429.0 L279.5,1429.0 L283.0,1429.0 L286.5,1429.0 L290.0,1429.0 L293.5,1429.0 L297.0,1429.0 L300.5,1429.0 L304.0,1429.0 L307.5,1429.0 L311.0,1429.0 L314.5,1429.0 L317.9,1429.0 L321.4,1429.0 L324.9,1429.0 L328.4,1429.0 L331.9,1429.0 L335.4,1429.0 L338.9,1429.0 L342.4,1429.0 L345.9,1429.0 L349.4,1429.0 L352.9,1429.0 L356.4,1429.0 L359.9,1429.0 L363.4,1429.0 L366.9,1429.0 L370.4,1429.0 L373.9,1429.0 L377.4,1429.0 L380.9,1429.0 L384.4,1429.0 L387.9,1429.0 L391.4,1429.0 L394.9,1429.0 L398.4,1429.0 L401.9,1429.0 L405.3,1429.0 L408.8,1429.0 L412.3,1429.0 L415.8,1428.9 L419.3,1428.9 L422.8,1428.9 L426.3,1428.9 L429.8,1428.9 L433.3,1428.9 L436.8,1428.9 L440.3,1428.9 L443.8,1428.9 L447.3,1428.9 L450.8,1429.0 L454.3,1429.0 L457.8,1429.0 L461.3,1429.0 L464.8,1429.1 L468.3,1429.1 L471.8,1429.2 L475.3,1429.2 L478.8,1429.2 L482.3,1429.2 L485.8,1429.2 L489.3,1429.1 L492.7,1429.1 L496.2,1429.0 L499.7,1428.8 L503.2,1428.7 L506.7,1428.5 L510.2,1428.3 L513.7,1428.0 L517.2,1427.7 L520.6,1427.4 L524.1,1427.1 L527.6,1426.8 L531.1,1426.4 L534.5,1426.1 L538.0,1425.7 L541.5,1425.3 L545.0,1425.0 L548.5,1424.6 L551.9,1424.2 L555.4,1423.9 L558.9,1423.6 L562.4,1423.2 L565.9,1422.9 L569.3,1422.6 L572.8,1422.3 L576.3,1422.0 L579.8,1421.7 L583.3,1421.5 L586.8,1421.2 L590.2,1420.9 L593.7,1420.7 L597.2,1420.4 L600.7,1420.1 L604.2,1419.9 L607.7,1419.6 L611.1,1419.3 L614.6,1419.0 L618.1,1418.7 L621.6,1418.4 L625.1,1418.1 L628.5,1417.8 L632.0,1417.4 L635.5,1417.1 L638.9,1416.7 L642.4,1416.3 L645.9,1415.9 L649.3,1415.4 L652.8,1414.9 L656.3,1414.4 L659.7,1413.9 L663.2,1413.4 L666.6,1412.8 L670.1,1412.2 L673.5,1411.5 L676.9,1410.9 L680.4,1410.1 L683.8,1409.4 L687.2,1408.7 L690.7,1407.9 L694.1,1407.2 L697.5,1406.4 L701.0,1405.7 L704.4,1404.9 L707.8,1404.2 L711.3,1403.4 L714.7,1402.7 L718.1,1402.0 L721.5,1401.4 L725.0,1400.7 L728.4,1400.2 L731.9,1399.6 L735.3,1399.1 L738.7,1398.7 L742.2,1398.3 L745.6,1397.9 L749.1,1397.6 L752.6,1397.4 L756.0,1397.2 L759.5,1397.1 L763.0,1397.0 L766.4,1397.0 L769.9,1397.0 L773.4,1397.0 L776.9,1397.1 L780.4,1397.2 L783.8,1397.4 L787.3,1397.5 L790.8,1397.7 L794.3,1398.0 L797.8,1398.2 L801.3,1398.5 L804.8,1398.8 L808.3,1399.2 L811.8,1399.5 L815.3,1399.9 L818.8,1400.2 L822.3,1400.6 L825.8,1401.0 L829.3,1401.4 L832.8,1401.8 L836.3,1402.2 L839.8,1402.6 L843.3,1403.0 L846.8,1403.4 L850.3,1403.8 L853.8,1404.1 L857.3,1404.5 L860.8,1404.9 L864.3,1405.2 L867.8,1405.5 L871.3,1405.8 L874.8,1406.1 L878.2,1406.4 L881.7,1406.7 L885.2,1406.9 L888.7,1407.1 L892.2,1407.3 L895.7,1407.4 L899.1,1407.6 L902.6,1407.7 L906.1,1407.7 L909.6,1407.8 L913.0,1407.8 L916.5,1407.7 L920.0,1407.7 L923.4,1407.6 L926.9,1407.4 L930.3,1407.2 L933.8,1407.0 L937.3,1406.7 L940.7,1406.4 L944.2,1406.1 L947.6,1405.8 L951.1,1405.4 L954.5,1405.0 L958.0,1404.6 L961.5,1404.1 L964.9,1403.7 L968.4,1403.3 L971.9,1402.9 L975.4,1402.4 L978.9,1402.0 L982.5,1401.6 L986.0,1401.1 L989.5,1400.7 L993.0,1400.2 L996.5,1399.6 L1000.0,1399.1 L1003.4,1398.5 L1006.9,1397.8 L1010.3,1397.1 L1013.7,1396.3 L1017.1,1395.5 L1020.5,1394.6 L1023.8,1393.6 L1027.1,1392.5 L1030.4,1391.3 L1033.6,1390.1 L1036.8,1388.8 L1040.0,1387.5 L1043.1,1386.0 L1046.2,1384.5 L1049.3,1382.9 L1052.3,1381.3 L1055.3,1379.6 L1058.3,1377.8 L1061.2,1376.0 L1064.1,1374.1 L1067.0,1372.1 L1069.8,1370.1 L1072.6,1368.0 L1075.3,1365.9 L1078.0,1363.8 L1080.7,1361.5 L1083.3,1359.3 L1085.9,1356.9 L1088.4,1354.6 L1090.9,1352.2 L1093.4,1349.7 L1095.8,1347.2 L1098.2,1344.7 L1100.6,1342.1 L1102.9,1339.5 L1105.1,1336.8 L1107.4,1334.1 L1109.5,1331.4 L1111.7,1328.6 L1113.8,1325.8 L1115.8,1323.0 L1117.8,1320.2 L1119.7,1317.3 L1121.7,1314.4 L1123.5,1311.5 L1125.4,1308.5 L1127.1,1305.6 L1128.9,1302.6 L1130.6,1299.5 L1132.3,1296.5 L1133.9,1293.5 L1135.5,1290.4 L1137.1,1287.3 L1138.6,1284.2 L1140.1,1281.0 L1141.6,1277.9 L1143.0,1274.7 L1144.4,1271.5 L1145.8,1268.3 L1147.1,1265.1 L1148.5,1261.9 L1149.8,1258.6 L1151.0,1255.4 L1152.3,1252.1 L1153.5,1248.9 L1154.8,1245.6 L1155.9,1242.3 L1157.1,1239.0 L1158.3,1235.7 L1159.4,1232.3 L1160.6,1229.0 L1161.7,1225.7 L1162.8,1222.4 L1163.9,1219.0 L1164.9,1215.7 L1166.0,1212.3 L1167.1,1209.0 L1168.1,1205.6 L1169.2,1202.3 L1170.2,1198.9 L1171.2,1195.6 L1172.3,1192.2 L1173.3,1188.9 L1174.3,1185.5 L1175.3,1182.2 L1176.3,1178.8 L1177.4,1175.5 L1178.4,1172.1 L1179.4,1168.8 L1180.4,1165.4 L1181.3,1162.1 L1182.3,1158.7 L1183.3,1155.4 L1184.3,1152.0 L1185.3,1148.7 L1186.3,1145.3 L1187.2,1142.0 L1188.2,1138.6 L1189.2,1135.3 L1190.1,1131.9 L1191.1,1128.6 L1192.1,1125.2 L1193.0,1121.9 L1194.0,1118.5 L1194.9,1115.2 L1195.9,1111.8 L1196.9,1108.5 L1197.8,1105.1 L1198.8,1101.8 L1199.7,1098.4 L1200.7,1095.1 L1201.6,1091.7 L1202.6,1088.4 L1203.5,1085.0 L1204.5,1081.7 L1205.4,1078.3 L1206.3,1075.0 L1207.3,1071.6 L1208.2,1068.3 L1209.2,1064.9 L1210.1,1061.6 L1211.1,1058.2 L1212.0,1054.9 L1213.0,1051.5 L1213.9,1048.2 L1214.9,1044.8 L1215.9,1041.5 L1216.8,1038.1 L1217.8,1034.8 L1218.7,1031.4 L1219.7,1028.1 L1220.7,1024.7 L1221.6,1021.3 L1222.6,1018.0 L1223.6,1014.6 L1224.5,1011.3 L1225.5,1007.9 L1226.5,1004.6 L1227.5,1001.2 L1228.5,997.9 L1229.5,994.5 L1230.5,991.1 L1231.5,987.8 L1232.5,984.4 L1233.5,981.1 L1234.5,977.7 L1235.5,974.4 L1236.6,971.0 L1237.6,967.7 L1238.7,964.3 L1239.7,961.0 L1240.8,957.7 L1241.9,954.3 L1243.0,951.0 L1244.1,947.7 L1245.2,944.4 L1246.4,941.1 L1247.5,937.7 L1248.7,934.4 L1249.9,931.2 L1251.1,927.9 L1252.3,924.6 L1253.6,921.3 L1254.9,918.1 L1256.1,914.8 L1257.5,911.6 L1258.8,908.3 L1260.2,905.1 L1261.5,901.9 L1262.9,898.7 L1264.4,895.5 L1265.8,892.3 L1267.3,889.1 L1268.8,885.9 L1270.4,882.8 L1271.9,879.7 L1273.5,876.5 L1275.2,873.4 L1276.8,870.4 L1278.6,867.3 L1280.3,864.4 L1282.1,861.5 L1284.0,858.6 L1285.9,855.9 L1287.9,853.2 L1289.9,850.6 L1292.1,848.1 L1294.4,845.6 L1296.8,843.0 L1299.4,840.4 L1302.1,837.7 L1305.1,835.3 L1308.1,833.4 L1311.2,832.3 L1314.4,832.1 L1317.5,833.0 L1320.7,834.6 L1323.8,836.6 L1326.8,839.0 L1329.6,841.4 L1332.1,844.0 L1334.5,846.6 L1336.7,849.2 L1338.9,851.8 L1341.0,854.5 L1343.0,857.2 L1345.0,860.0 L1346.9,862.8 L1348.8,865.6 L1350.6,868.5 L1352.4,871.4 L1354.1,874.3 L1355.8,877.3 L1357.5,880.3 L1359.1,883.3 L1360.7,886.4 L1362.2,889.4 L1363.7,892.5 L1365.1,895.6 L1366.6,898.8 L1367.9,901.9 L1369.3,905.1 L1370.6,908.3 L1371.9,911.5 L1373.2,914.8 L1374.4,918.0 L1375.6,921.3 L1376.8,924.6 L1378.0,927.9 L1379.1,931.2 L1380.2,934.5 L1381.3,937.9 L1382.4,941.2 L1383.5,944.6 L1384.5,947.9 L1385.5,951.3 L1386.6,954.7 L1387.6,958.1 L1388.6,961.4 L1389.5,964.8 L1390.5,968.2 L1391.5,971.6 L1392.4,975.0 L1393.4,978.4 L1394.3,981.8 L1395.3,985.2 L1396.2,988.6 L1397.1,992.0 L1398.1,995.4 L1399.0,998.7 L1399.9,1002.1 L1400.8,1005.5 L1401.7,1008.9 L1402.6,1012.3 L1403.5,1015.7 L1404.4,1019.1 L1405.3,1022.5 L1406.3,1025.9 L1407.2,1029.3 L1408.1,1032.6 L1409.0,1036.0 L1409.9,1039.4 L1410.8,1042.8 L1411.7,1046.2 L1412.6,1049.6 L1413.5,1052.9 L1414.4,1056.3 L1415.3,1059.7 L1416.2,1063.0 L1417.1,1066.4 L1418.1,1069.8 L1419.0,1073.1 L1419.9,1076.5 L1420.9,1079.8 L1421.8,1083.2 L1422.8,1086.6 L1423.7,1089.9 L1424.7,1093.2 L1425.7,1096.6 L1426.6,1099.9 L1427.6,1103.2 L1428.6,1106.6 L1429.6,1109.9 L1430.7,1113.2 L1431.7,1116.5 L1432.7,1119.8 L1433.8,1123.1 L1434.8,1126.4 L1435.9,1129.7 L1437.0,1133.0 L1438.1,1136.3 L1439.2,1139.6 L1440.3,1142.9 L1441.4,1146.1 L1442.6,1149.4 L1443.7,1152.7 L1444.9,1155.9 L1446.1,1159.2 L1447.3,1162.4 L1448.5,1165.6 L1449.7,1168.9 L1451.0,1172.1 L1452.2,1175.4 L1453.5,1178.6 L1454.8,1181.8 L1456.1,1185.0 L1457.4,1188.3 L1458.7,1191.5 L1460.0,1194.7 L1461.3,1197.9 L1462.7,1201.2 L1464.1,1204.4 L1465.4,1207.6 L1466.8,1210.8 L1468.2,1214.0 L1469.6,1217.3 L1471.0,1220.5 L1472.4,1223.7 L1473.9,1227.0 L1475.3,1230.2 L1476.8,1233.4 L1478.2,1236.7 L1479.7,1239.9 L1481.2,1243.2 L1482.7,1246.4 L1484.2,1249.6 L1485.8,1252.8 L1487.3,1256.0 L1488.9,1259.2 L1490.6,1262.4 L1492.2,1265.5 L1493.9,1268.6 L1495.7,1271.6 L1497.4,1274.6 L1499.3,1277.6 L1501.2,1280.5 L1503.1,1283.3 L1505.1,1286.1 L1507.1,1288.9 L1509.2,1291.5 L1511.4,1294.1 L1513.7,1296.6 L1516.0,1299.1 L1518.4,1301.4 L1520.8,1303.7 L1523.4,1305.9 L1526.0,1307.9 L1528.7,1309.9 L1531.5,1311.8 L1534.4,1313.6 L1537.4,1315.2 L1540.5,1316.8 L1543.6,1318.2 L1546.8,1319.6 L1550.0,1320.8 L1553.4,1322.0 L1556.7,1323.0 L1560.2,1323.9 L1563.6,1324.8 L1567.1,1325.5 L1570.6,1326.1 L1574.2,1326.7 L1577.7,1327.1 L1581.3,1327.4 L1584.9,1327.7 L1588.5,1327.8 L1592.1,1327.9 L1595.7,1327.9 L1599.4,1327.8 L1603.0,1327.7 L1606.6,1327.5 L1610.2,1327.3 L1613.8,1327.1 L1617.3,1326.9 L1620.9,1326.6 L1624.5,1326.4 L1628.1,1326.2 L1631.6,1326.1 L1635.1,1325.9 L1638.6,1325.9 L1642.1,1325.8 L1645.6,1325.9 L1649.0,1326.0 L1652.5,1326.3 L1655.8,1326.6 L1659.2,1327.1 L1662.6,1327.6 L1665.9,1328.3 L1669.2,1329.0 L1672.4,1329.9 L1675.7,1330.8 L1678.9,1331.8 L1682.1,1332.9 L1685.3,1334.1 L1688.4,1335.4 L1691.6,1336.7 L1694.7,1338.2 L1697.8,1339.7 L1700.8,1341.2 L1703.9,1342.8 L1706.9,1344.5 L1710.0,1346.2 L1713.0,1348.0 L1715.9,1349.9 L1718.9,1351.8 L1721.9,1353.7 L1724.8,1355.6 L1727.7,1357.7 L1730.6,1359.7 L1733.5,1361.8 L1736.4,1363.8 L1739.3,1366.0 L1742.1,1368.1 L1745.0,1370.3 L1747.8,1372.4 L1750.7,1374.6 L1753.5,1376.8 L1756.3,1379.0 L1759.1,1381.2 L1761.9,1383.4 L1764.7,1385.5 L1767.5,1387.7 L1770.2,1389.9 L1773.0,1392.0 L1775.8,1394.2 L1778.5,1396.3 L1781.3,1398.3 L1784.1,1400.4 L1786.9,1402.3 L1789.7,1404.3 L1792.6,1406.2 L1795.4,1408.0 L1798.3,1409.7 L1801.2,1411.4 L1804.2,1413.0 L1807.2,1414.6 L1810.3,1416.0 L1813.4,1417.4 L1816.5,1418.6 L1819.7,1419.7 L1823.0,1420.8 L1826.3,1421.7 L1829.8,1422.5 L1833.2,1423.1 L1836.8,1423.7 L1840.4,1424.1 L1844.1,1424.4 L1847.7,1424.6 L1851.5,1424.8 L1855.2,1424.9 L1858.9,1425.0 L1862.5,1425.0 L1866.1,1425.0 L1869.7,1425.0 L1873.2,1425.1 L1876.5,1425.2 L1879.8,1425.3 L1883.0,1425.5 L1884.0,1425.6" fill="none" stroke="#d4107a" stroke-width="5.5" stroke-linejoin="round" stroke-linecap="round"/>
<path d="M276.0,1429.0 L279.4,1429.0 L282.8,1429.0 L286.2,1429.0 L289.5,1429.0 L292.9,1429.0 L296.3,1429.0 L299.7,1429.0 L303.1,1429.0 L306.5,1429.0 L309.8,1429.0 L313.2,1429.0 L316.6,1429.0 L320.0,1429.0 L323.4,1429.0 L326.8,1429.0 L330.1,1429.0 L333.5,1429.0 L336.9,1429.0 L340.3,1429.0 L343.7,1429.0 L347.1,1429.0 L350.5,1429.1 L353.8,1429.1 L357.2,1429.1 L360.6,1429.1 L364.0,1429.1 L367.4,1429.1 L370.8,1429.1 L374.1,1429.1 L377.5,1429.1 L380.9,1429.0 L384.3,1429.0 L387.7,1429.0 L391.1,1429.0 L394.4,1429.0 L397.8,1428.9 L401.2,1428.9 L404.6,1428.9 L408.0,1428.9 L411.4,1428.9 L414.7,1428.9 L418.1,1428.9 L421.5,1428.9 L424.9,1428.9 L428.3,1428.9 L431.7,1428.9 L435.0,1428.9 L438.4,1429.0 L441.8,1429.0 L445.2,1429.1 L448.6,1429.1 L452.0,1429.2 L455.4,1429.2 L458.8,1429.3 L462.1,1429.3 L465.5,1429.3 L468.9,1429.3 L472.3,1429.2 L475.7,1429.2 L479.0,1429.0 L482.4,1428.9 L485.8,1428.7 L489.1,1428.4 L492.5,1428.1 L495.9,1427.8 L499.2,1427.4 L502.5,1426.9 L505.9,1426.5 L509.2,1426.0 L512.6,1425.5 L515.9,1425.0 L519.3,1424.5 L522.6,1423.9 L525.9,1423.4 L529.3,1422.9 L532.6,1422.4 L535.9,1421.9 L539.3,1421.4 L542.6,1420.9 L546.0,1420.4 L549.3,1419.9 L552.7,1419.4 L556.0,1418.9 L559.3,1418.5 L562.7,1418.0 L566.0,1417.5 L569.4,1417.0 L572.7,1416.6 L576.1,1416.1 L579.4,1415.6 L582.8,1415.1 L586.1,1414.7 L589.5,1414.2 L592.8,1413.7 L596.2,1413.2 L599.5,1412.7 L602.9,1412.2 L606.2,1411.6 L609.5,1411.1 L612.9,1410.6 L616.2,1410.0 L619.6,1409.4 L622.9,1408.9 L626.3,1408.3 L629.6,1407.7 L632.9,1407.1 L636.3,1406.5 L639.6,1405.9 L643.0,1405.3 L646.3,1404.7 L649.7,1404.0 L653.0,1403.4 L656.3,1402.8 L659.7,1402.2 L663.0,1401.6 L666.4,1401.0 L669.7,1400.4 L673.1,1399.8 L676.4,1399.3 L679.8,1398.7 L683.1,1398.1 L686.4,1397.6 L689.8,1397.1 L693.1,1396.5 L696.5,1396.0 L699.8,1395.5 L703.2,1395.0 L706.5,1394.6 L709.9,1394.1 L713.3,1393.7 L716.6,1393.3 L720.0,1392.9 L723.3,1392.6 L726.7,1392.2 L730.1,1391.9 L733.4,1391.6 L736.8,1391.4 L740.2,1391.2 L743.5,1391.0 L746.9,1390.8 L750.3,1390.6 L753.6,1390.5 L757.0,1390.4 L760.4,1390.4 L763.8,1390.3 L767.2,1390.3 L770.5,1390.3 L773.9,1390.4 L777.3,1390.4 L780.7,1390.5 L784.1,1390.6 L787.5,1390.7 L790.9,1390.8 L794.3,1390.9 L797.6,1391.1 L801.0,1391.2 L804.4,1391.4 L807.8,1391.6 L811.2,1391.8 L814.6,1392.0 L818.0,1392.2 L821.4,1392.5 L824.8,1392.7 L828.2,1392.9 L831.6,1393.2 L835.0,1393.4 L838.4,1393.7 L841.7,1393.9 L845.1,1394.2 L848.5,1394.4 L851.9,1394.7 L855.3,1394.9 L858.7,1395.2 L862.1,1395.4 L865.5,1395.7 L868.9,1395.9 L872.3,1396.1 L875.6,1396.4 L879.0,1396.6 L882.4,1396.8 L885.8,1396.9 L889.2,1397.1 L892.6,1397.3 L895.9,1397.4 L899.3,1397.6 L902.7,1397.7 L906.1,1397.8 L909.4,1397.9 L912.8,1397.9 L916.2,1398.0 L919.5,1398.0 L922.9,1398.0 L926.3,1398.0 L929.6,1397.9 L933.0,1397.9 L936.3,1397.8 L939.7,1397.7 L943.0,1397.5 L946.4,1397.3 L949.7,1397.1 L953.1,1396.9 L956.4,1396.6 L959.7,1396.3 L963.1,1396.0 L966.4,1395.6 L969.7,1395.2 L973.0,1394.7 L976.4,1394.3 L979.7,1393.7 L983.0,1393.2 L986.3,1392.6 L989.6,1391.9 L992.9,1391.2 L996.2,1390.5 L999.5,1389.7 L1002.8,1388.9 L1006.1,1388.1 L1009.3,1387.1 L1012.6,1386.2 L1015.9,1385.2 L1019.1,1384.1 L1022.3,1383.0 L1025.5,1381.8 L1028.7,1380.5 L1031.8,1379.2 L1034.9,1377.9 L1038.0,1376.4 L1041.0,1374.9 L1044.0,1373.3 L1046.9,1371.7 L1049.8,1370.0 L1052.6,1368.2 L1055.4,1366.3 L1058.1,1364.3 L1060.8,1362.3 L1063.3,1360.2 L1065.9,1358.0 L1068.3,1355.7 L1070.7,1353.4 L1073.1,1351.0 L1075.4,1348.6 L1077.6,1346.0 L1079.8,1343.5 L1082.0,1340.9 L1084.1,1338.2 L1086.2,1335.5 L1088.2,1332.8 L1090.2,1330.0 L1092.1,1327.2 L1094.0,1324.4 L1095.9,1321.6 L1097.7,1318.7 L1099.5,1315.9 L1101.3,1313.0 L1103.1,1310.1 L1104.8,1307.1 L1106.5,1304.2 L1108.1,1301.3 L1109.8,1298.3 L1111.4,1295.3 L1113.0,1292.3 L1114.5,1289.3 L1116.1,1286.3 L1117.6,1283.3 L1119.1,1280.3 L1120.6,1277.2 L1122.0,1274.2 L1123.4,1271.1 L1124.9,1268.1 L1126.2,1265.0 L1127.6,1261.9 L1129.0,1258.8 L1130.3,1255.7 L1131.7,1252.6 L1133.0,1249.5 L1134.3,1246.4 L1135.6,1243.2 L1136.8,1240.1 L1138.1,1237.0 L1139.3,1233.8 L1140.6,1230.7 L1141.8,1227.5 L1143.0,1224.4 L1144.2,1221.2 L1145.5,1218.0 L1146.7,1214.9 L1147.8,1211.7 L1149.0,1208.6 L1150.2,1205.4 L1151.4,1202.2 L1152.5,1199.0 L1153.7,1195.9 L1154.9,1192.7 L1156.0,1189.5 L1157.1,1186.3 L1158.3,1183.2 L1159.4,1180.0 L1160.5,1176.8 L1161.6,1173.6 L1162.7,1170.4 L1163.9,1167.2 L1164.9,1164.0 L1166.0,1160.8 L1167.1,1157.6 L1168.2,1154.4 L1169.3,1151.2 L1170.3,1148.0 L1171.4,1144.8 L1172.5,1141.6 L1173.5,1138.4 L1174.6,1135.2 L1175.6,1132.0 L1176.7,1128.8 L1177.7,1125.6 L1178.7,1122.4 L1179.7,1119.1 L1180.8,1115.9 L1181.8,1112.7 L1182.8,1109.5 L1183.8,1106.2 L1184.8,1103.0 L1185.8,1099.8 L1186.8,1096.6 L1187.8,1093.3 L1188.7,1090.1 L1189.7,1086.9 L1190.7,1083.6 L1191.7,1080.4 L1192.6,1077.1 L1193.6,1073.9 L1194.6,1070.7 L1195.5,1067.4 L1196.5,1064.2 L1197.4,1060.9 L1198.4,1057.7 L1199.3,1054.4 L1200.3,1051.2 L1201.2,1047.9 L1202.1,1044.7 L1203.1,1041.4 L1204.0,1038.2 L1204.9,1034.9 L1205.9,1031.7 L1206.8,1028.4 L1207.7,1025.1 L1208.6,1021.9 L1209.5,1018.6 L1210.4,1015.3 L1211.3,1012.1 L1212.3,1008.8 L1213.2,1005.5 L1214.1,1002.3 L1215.0,999.0 L1215.9,995.7 L1216.8,992.5 L1217.7,989.2 L1218.6,985.9 L1219.5,982.6 L1220.4,979.4 L1221.3,976.1 L1222.2,972.8 L1223.1,969.6 L1224.0,966.3 L1225.0,963.1 L1225.9,959.8 L1226.9,956.6 L1227.9,953.3 L1228.9,950.1 L1229.9,946.9 L1231.0,943.7 L1232.1,940.5 L1233.2,937.3 L1234.3,934.2 L1235.5,931.0 L1236.7,927.9 L1238.0,924.8 L1239.3,921.7 L1240.6,918.6 L1242.0,915.5 L1243.4,912.5 L1244.9,909.5 L1246.4,906.5 L1247.9,903.5 L1249.6,900.6 L1251.3,897.7 L1253.0,894.8 L1254.9,892.0 L1256.8,889.3 L1258.8,886.7 L1261.0,884.1 L1263.2,881.6 L1265.5,879.2 L1268.0,876.8 L1270.5,874.6 L1273.2,872.5 L1276.1,870.5 L1279.0,868.7 L1282.1,867.0 L1285.2,865.7 L1288.5,864.8 L1291.7,864.4 L1295.0,864.6 L1298.2,865.3 L1301.4,866.4 L1304.4,867.9 L1307.3,869.7 L1310.1,871.7 L1312.7,874.0 L1315.1,876.3 L1317.3,878.8 L1319.5,881.4 L1321.5,884.1 L1323.5,886.8 L1325.5,889.6 L1327.3,892.4 L1329.2,895.2 L1330.9,898.1 L1332.6,901.0 L1334.3,903.9 L1335.9,906.9 L1337.4,909.9 L1338.9,912.9 L1340.4,915.9 L1341.8,919.0 L1343.2,922.1 L1344.6,925.2 L1345.9,928.3 L1347.2,931.4 L1348.5,934.5 L1349.7,937.7 L1350.9,940.8 L1352.1,944.0 L1353.3,947.1 L1354.4,950.3 L1355.6,953.5 L1356.7,956.6 L1357.8,959.8 L1358.9,963.0 L1360.0,966.2 L1361.1,969.4 L1362.1,972.5 L1363.2,975.7 L1364.2,978.9 L1365.2,982.1 L1366.3,985.3 L1367.3,988.5 L1368.3,991.7 L1369.3,994.9 L1370.3,998.1 L1371.3,1001.3 L1372.3,1004.6 L1373.3,1007.8 L1374.3,1011.0 L1375.2,1014.2 L1376.2,1017.4 L1377.2,1020.6 L1378.2,1023.9 L1379.2,1027.1 L1380.1,1030.3 L1381.1,1033.5 L1382.1,1036.7 L1383.0,1040.0 L1384.0,1043.2 L1385.0,1046.4 L1385.9,1049.6 L1386.9,1052.9 L1387.9,1056.1 L1388.8,1059.3 L1389.8,1062.6 L1390.8,1065.8 L1391.7,1069.0 L1392.7,1072.2 L1393.7,1075.5 L1394.7,1078.7 L1395.6,1081.9 L1396.6,1085.1 L1397.6,1088.4 L1398.6,1091.6 L1399.6,1094.8 L1400.6,1098.0 L1401.6,1101.2 L1402.6,1104.5 L1403.6,1107.7 L1404.6,1110.9 L1405.6,1114.1 L1406.7,1117.3 L1407.7,1120.5 L1408.7,1123.8 L1409.8,1127.0 L1410.8,1130.2 L1411.9,1133.4 L1413.0,1136.6 L1414.0,1139.8 L1415.1,1143.0 L1416.2,1146.2 L1417.3,1149.4 L1418.4,1152.5 L1419.5,1155.7 L1420.7,1158.9 L1421.8,1162.1 L1422.9,1165.3 L1424.1,1168.4 L1425.3,1171.6 L1426.5,1174.8 L1427.7,1177.9 L1428.9,1181.1 L1430.1,1184.2 L1431.3,1187.4 L1432.6,1190.5 L1433.9,1193.6 L1435.1,1196.8 L1436.4,1199.9 L1437.8,1203.0 L1439.1,1206.1 L1440.4,1209.2 L1441.8,1212.3 L1443.2,1215.4 L1444.6,1218.5 L1446.0,1221.5 L1447.4,1224.6 L1448.9,1227.6 L1450.4,1230.7 L1451.9,1233.7 L1453.4,1236.8 L1454.9,1239.8 L1456.5,1242.8 L1458.1,1245.8 L1459.7,1248.8 L1461.3,1251.8 L1463.0,1254.7 L1464.6,1257.7 L1466.3,1260.6 L1468.1,1263.6 L1469.8,1266.5 L1471.6,1269.3 L1473.5,1272.2 L1475.4,1275.0 L1477.3,1277.7 L1479.3,1280.4 L1481.4,1283.0 L1483.5,1285.6 L1485.7,1288.1 L1488.0,1290.5 L1490.3,1292.9 L1492.8,1295.1 L1495.3,1297.3 L1497.8,1299.4 L1500.5,1301.4 L1503.3,1303.2 L1506.1,1305.0 L1509.0,1306.7 L1512.0,1308.3 L1515.0,1309.9 L1518.1,1311.4 L1521.2,1312.8 L1524.3,1314.1 L1527.5,1315.4 L1530.7,1316.6 L1533.9,1317.8 L1537.1,1318.9 L1540.4,1320.0 L1543.6,1321.1 L1546.8,1322.1 L1550.1,1323.1 L1553.3,1324.1 L1556.6,1325.0 L1559.8,1326.0 L1563.1,1326.9 L1566.3,1327.8 L1569.6,1328.7 L1572.8,1329.6 L1576.1,1330.5 L1579.3,1331.4 L1582.5,1332.3 L1585.8,1333.2 L1589.0,1334.1 L1592.2,1335.1 L1595.4,1336.0 L1598.6,1337.0 L1601.7,1338.1 L1604.9,1339.1 L1608.1,1340.2 L1611.2,1341.4 L1614.3,1342.6 L1617.4,1343.8 L1620.5,1345.1 L1623.5,1346.5 L1626.6,1347.9 L1629.6,1349.3 L1632.6,1350.9 L1635.5,1352.5 L1638.5,1354.2 L1641.4,1355.9 L1644.3,1357.7 L1647.2,1359.5 L1650.1,1361.4 L1653.0,1363.3 L1655.8,1365.2 L1658.7,1367.2 L1661.5,1369.1 L1664.4,1371.1 L1667.2,1373.0 L1670.1,1374.9 L1673.0,1376.8 L1675.8,1378.7 L1678.7,1380.5 L1681.6,1382.3 L1684.6,1384.0 L1687.5,1385.7 L1690.5,1387.3 L1693.5,1388.8 L1696.5,1390.2 L1699.5,1391.5 L1702.6,1392.7 L1705.7,1393.8 L1708.9,1394.8 L1712.1,1395.7 L1715.3,1396.5 L1718.6,1397.2 L1721.8,1397.8 L1725.1,1398.4 L1728.5,1398.8 L1731.8,1399.2 L1735.2,1399.5 L1738.6,1399.7 L1741.9,1399.9 L1745.4,1400.0 L1748.8,1400.1 L1752.2,1400.2 L1755.6,1400.2 L1759.1,1400.2 L1762.5,1400.1 L1765.9,1400.0 L1769.3,1400.0 L1772.8,1399.9 L1776.2,1399.8 L1779.6,1399.7 L1783.0,1399.5 L1786.4,1399.4 L1789.8,1399.2 L1793.2,1399.0 L1796.6,1398.8 L1799.9,1398.6 L1803.3,1398.3 L1806.7,1398.0 L1810.0,1397.7 L1813.4,1397.4 L1816.7,1397.0 L1820.1,1396.6 L1823.4,1396.1 L1826.7,1395.7 L1830.0,1395.1 L1833.3,1394.6 L1836.6,1394.0 L1839.9,1393.3 L1843.2,1392.6 L1846.5,1391.9 L1849.7,1391.1 L1853.0,1390.2 L1856.2,1389.3 L1859.5,1388.4 L1862.7,1387.4 L1865.9,1386.3 L1869.1,1385.2 L1872.3,1384.0 L1875.5,1382.7 L1876.6,1382.3" fill="none" stroke="#1b861b" stroke-width="5.5" stroke-linejoin="round" stroke-linecap="round"/>
<path d="M276.0,1429.0 L279.5,1429.0 L283.1,1429.0 L286.6,1429.0 L290.1,1429.0 L293.6,1429.0 L297.2,1429.0 L300.7,1429.0 L304.2,1429.0 L307.8,1429.0 L311.3,1429.0 L314.8,1429.0 L318.3,1429.0 L321.9,1429.0 L325.4,1429.0 L328.9,1429.0 L332.5,1429.0 L336.0,1429.0 L339.5,1429.0 L343.0,1429.0 L346.6,1429.0 L350.1,1429.0 L353.6,1429.0 L357.2,1429.0 L360.7,1429.0 L364.2,1429.0 L367.7,1429.0 L371.3,1429.0 L374.8,1429.0 L378.3,1429.0 L381.9,1429.0 L385.4,1429.0 L388.9,1429.0 L392.4,1429.0 L396.0,1429.0 L399.5,1429.0 L403.0,1429.0 L406.5,1429.0 L410.1,1429.0 L413.6,1429.0 L417.1,1429.0 L420.7,1429.0 L424.2,1429.0 L427.7,1429.0 L431.2,1429.0 L434.8,1429.0 L438.3,1429.0 L441.8,1429.0 L445.4,1429.0 L448.9,1429.0 L452.4,1429.0 L455.9,1429.0 L459.5,1429.0 L463.0,1429.0 L466.5,1429.0 L470.1,1429.0 L473.6,1429.0 L477.1,1429.0 L480.6,1429.0 L484.2,1429.0 L487.7,1429.0 L491.2,1429.0 L494.8,1429.0 L498.3,1429.0 L501.8,1429.0 L505.4,1429.1 L508.9,1429.1 L512.4,1429.1 L515.9,1429.1 L519.5,1429.1 L523.0,1429.1 L526.5,1429.1 L530.1,1429.1 L533.6,1429.1 L537.1,1429.1 L540.6,1429.1 L544.2,1429.1 L547.7,1429.1 L551.2,1429.0 L554.7,1429.0 L558.3,1428.9 L561.8,1428.8 L565.3,1428.6 L568.8,1428.5 L572.3,1428.3 L575.8,1428.1 L579.3,1427.9 L582.8,1427.6 L586.3,1427.3 L589.8,1427.0 L593.3,1426.7 L596.8,1426.3 L600.3,1425.8 L603.8,1425.4 L607.3,1424.9 L610.7,1424.3 L614.2,1423.8 L617.7,1423.1 L621.2,1422.5 L624.6,1421.8 L628.1,1421.1 L631.5,1420.4 L635.0,1419.7 L638.4,1418.9 L641.9,1418.1 L645.3,1417.3 L648.8,1416.4 L652.2,1415.6 L655.7,1414.7 L659.1,1413.8 L662.5,1412.9 L666.0,1411.9 L669.4,1411.0 L672.8,1410.0 L676.3,1409.1 L679.7,1408.1 L683.1,1407.1 L686.5,1406.1 L690.0,1405.1 L693.4,1404.1 L696.8,1403.2 L700.2,1402.2 L703.7,1401.2 L707.1,1400.2 L710.5,1399.2 L713.9,1398.2 L717.4,1397.2 L720.8,1396.2 L724.2,1395.3 L727.7,1394.3 L731.1,1393.4 L734.5,1392.4 L737.9,1391.5 L741.4,1390.6 L744.8,1389.7 L748.2,1388.9 L751.7,1388.0 L755.1,1387.2 L758.5,1386.4 L762.0,1385.6 L765.4,1384.8 L768.9,1384.1 L772.3,1383.4 L775.7,1382.7 L779.2,1382.1 L782.6,1381.5 L786.1,1380.9 L789.6,1380.3 L793.0,1379.8 L796.5,1379.3 L799.9,1378.9 L803.4,1378.5 L806.9,1378.1 L810.4,1377.8 L813.8,1377.5 L817.3,1377.2 L820.8,1377.0 L824.3,1376.8 L827.8,1376.6 L831.3,1376.5 L834.8,1376.4 L838.3,1376.3 L841.8,1376.3 L845.2,1376.2 L848.8,1376.2 L852.3,1376.3 L855.8,1376.3 L859.3,1376.4 L862.8,1376.5 L866.3,1376.6 L869.8,1376.7 L873.3,1376.8 L876.8,1377.0 L880.3,1377.2 L883.9,1377.4 L887.4,1377.6 L890.9,1377.8 L894.4,1378.1 L897.9,1378.3 L901.4,1378.6 L905.0,1378.9 L908.5,1379.2 L912.0,1379.5 L915.5,1379.8 L919.1,1380.1 L922.6,1380.4 L926.1,1380.8 L929.6,1381.1 L933.2,1381.4 L936.7,1381.8 L940.2,1382.1 L943.7,1382.5 L947.3,1382.8 L950.8,1383.1 L954.3,1383.5 L957.8,1383.8 L961.4,1384.2 L964.9,1384.5 L968.4,1384.8 L971.9,1385.1 L975.4,1385.4 L979.0,1385.7 L982.5,1386.0 L986.0,1386.3 L989.5,1386.5 L993.0,1386.6 L996.5,1386.8 L1000.0,1386.9 L1003.5,1386.9 L1007.1,1386.9 L1010.6,1386.9 L1014.1,1386.8 L1017.6,1386.6 L1021.0,1386.4 L1024.5,1386.0 L1028.0,1385.6 L1031.5,1385.2 L1035.0,1384.6 L1038.5,1384.0 L1041.9,1383.2 L1045.4,1382.4 L1048.8,1381.5 L1052.2,1380.5 L1055.6,1379.5 L1058.9,1378.3 L1062.2,1377.1 L1065.5,1375.7 L1068.8,1374.3 L1071.9,1372.8 L1075.1,1371.2 L1078.2,1369.6 L1081.2,1367.8 L1084.2,1365.9 L1087.1,1364.0 L1090.0,1362.0 L1092.8,1359.9 L1095.5,1357.8 L1098.2,1355.5 L1100.9,1353.2 L1103.4,1350.9 L1106.0,1348.4 L1108.4,1346.0 L1110.9,1343.4 L1113.2,1340.8 L1115.5,1338.2 L1117.8,1335.5 L1120.0,1332.8 L1122.1,1330.1 L1124.2,1327.3 L1126.3,1324.5 L1128.3,1321.6 L1130.2,1318.7 L1132.1,1315.8 L1134.0,1312.9 L1135.8,1309.9 L1137.6,1306.9 L1139.3,1303.9 L1141.0,1300.9 L1142.6,1297.8 L1144.2,1294.7 L1145.8,1291.6 L1147.3,1288.5 L1148.8,1285.3 L1150.3,1282.1 L1151.7,1278.9 L1153.1,1275.7 L1154.4,1272.5 L1155.8,1269.2 L1157.1,1266.0 L1158.4,1262.7 L1159.6,1259.4 L1160.9,1256.1 L1162.1,1252.8 L1163.2,1249.5 L1164.4,1246.1 L1165.6,1242.8 L1166.7,1239.4 L1167.8,1236.1 L1168.9,1232.7 L1170.0,1229.3 L1171.1,1225.9 L1172.1,1222.6 L1173.2,1219.2 L1174.2,1215.8 L1175.2,1212.4 L1176.3,1209.0 L1177.3,1205.6 L1178.3,1202.2 L1179.3,1198.8 L1180.3,1195.4 L1181.3,1192.0 L1182.3,1188.6 L1183.3,1185.2 L1184.2,1181.8 L1185.2,1178.4 L1186.2,1175.0 L1187.1,1171.6 L1188.1,1168.2 L1189.1,1164.8 L1190.0,1161.4 L1190.9,1158.0 L1191.9,1154.6 L1192.8,1151.2 L1193.7,1147.8 L1194.7,1144.4 L1195.6,1141.0 L1196.5,1137.6 L1197.4,1134.2 L1198.3,1130.8 L1199.2,1127.4 L1200.1,1124.0 L1201.0,1120.6 L1201.9,1117.2 L1202.8,1113.8 L1203.7,1110.4 L1204.6,1107.0 L1205.5,1103.6 L1206.4,1100.2 L1207.3,1096.8 L1208.1,1093.4 L1209.0,1090.0 L1209.9,1086.6 L1210.7,1083.1 L1211.6,1079.7 L1212.5,1076.3 L1213.3,1072.9 L1214.2,1069.5 L1215.1,1066.1 L1215.9,1062.7 L1216.8,1059.3 L1217.6,1055.9 L1218.5,1052.4 L1219.3,1049.0 L1220.2,1045.6 L1221.0,1042.2 L1221.9,1038.8 L1222.7,1035.4 L1223.6,1032.0 L1224.4,1028.5 L1225.3,1025.1 L1226.1,1021.7 L1227.0,1018.3 L1227.8,1014.9 L1228.7,1011.4 L1229.5,1008.0 L1230.4,1004.6 L1231.2,1001.2 L1232.1,997.8 L1232.9,994.3 L1233.8,990.9 L1234.6,987.5 L1235.5,984.1 L1236.3,980.7 L1237.2,977.2 L1238.1,973.8 L1238.9,970.4 L1239.8,967.0 L1240.6,963.5 L1241.5,960.1 L1242.4,956.7 L1243.2,953.3 L1244.1,949.8 L1245.0,946.4 L1245.9,943.0 L1246.7,939.6 L1247.6,936.1 L1248.5,932.7 L1249.4,929.3 L1250.3,925.9 L1251.2,922.5 L1252.1,919.1 L1253.0,915.6 L1254.0,912.2 L1254.9,908.8 L1255.8,905.4 L1256.8,902.0 L1257.7,898.6 L1258.7,895.2 L1259.6,891.8 L1260.6,888.4 L1261.6,885.0 L1262.5,881.7 L1263.5,878.3 L1264.5,874.9 L1265.6,871.5 L1266.6,868.2 L1267.6,864.8 L1268.6,861.5 L1269.7,858.1 L1270.8,854.8 L1271.8,851.4 L1272.9,848.1 L1274.0,844.7 L1275.1,841.4 L1276.2,838.1 L1277.4,834.8 L1278.5,831.5 L1279.7,828.2 L1280.8,824.9 L1282.0,821.6 L1283.2,818.3 L1284.4,815.1 L1285.7,811.8 L1287.0,808.5 L1288.3,805.2 L1289.6,801.9 L1291.0,798.7 L1292.5,795.4 L1293.9,792.1 L1295.5,788.7 L1297.1,785.4 L1298.8,782.1 L1300.5,778.8 L1302.4,775.6 L1304.4,772.6 L1306.6,769.9 L1309.1,767.6 L1311.8,765.8 L1314.8,764.6 L1318.2,764.0 L1321.8,763.9 L1325.5,764.0 L1329.3,764.0 L1332.8,764.2 L1336.0,765.1 L1338.7,766.8 L1341.0,769.2 L1343.0,772.0 L1344.8,775.1 L1346.3,778.4 L1347.8,781.7 L1349.2,785.2 L1350.5,788.5 L1351.9,791.9 L1353.3,795.2 L1354.7,798.5 L1356.1,801.8 L1357.4,805.0 L1358.7,808.3 L1360.1,811.5 L1361.4,814.8 L1362.7,818.1 L1363.9,821.3 L1365.2,824.6 L1366.4,827.9 L1367.7,831.2 L1368.9,834.4 L1370.1,837.7 L1371.2,841.0 L1372.4,844.4 L1373.5,847.7 L1374.7,851.0 L1375.8,854.3 L1376.9,857.6 L1378.0,861.0 L1379.0,864.3 L1380.1,867.6 L1381.2,871.0 L1382.2,874.3 L1383.2,877.7 L1384.2,881.1 L1385.2,884.4 L1386.2,887.8 L1387.2,891.2 L1388.1,894.5 L1389.1,897.9 L1390.0,901.3 L1391.0,904.7 L1391.9,908.1 L1392.8,911.5 L1393.7,914.9 L1394.6,918.3 L1395.5,921.7 L1396.4,925.1 L1397.2,928.5 L1398.1,931.9 L1398.9,935.3 L1399.8,938.7 L1400.6,942.1 L1401.5,945.6 L1402.3,949.0 L1403.1,952.4 L1403.9,955.8 L1404.7,959.3 L1405.5,962.7 L1406.4,966.1 L1407.1,969.6 L1407.9,973.0 L1408.7,976.4 L1409.5,979.9 L1410.3,983.3 L1411.1,986.7 L1411.9,990.2 L1412.6,993.6 L1413.4,997.1 L1414.2,1000.5 L1415.0,1004.0 L1415.7,1007.4 L1416.5,1010.8 L1417.3,1014.3 L1418.0,1017.7 L1418.8,1021.2 L1419.6,1024.6 L1420.3,1028.1 L1421.1,1031.5 L1421.9,1035.0 L1422.6,1038.4 L1423.4,1041.8 L1424.2,1045.3 L1425.0,1048.7 L1425.8,1052.2 L1426.5,1055.6 L1427.3,1059.1 L1428.1,1062.5 L1428.9,1065.9 L1429.7,1069.4 L1430.5,1072.8 L1431.4,1076.2 L1432.2,1079.7 L1433.0,1083.1 L1433.8,1086.5 L1434.7,1089.9 L1435.5,1093.4 L1436.3,1096.8 L1437.2,1100.2 L1438.0,1103.6 L1438.9,1107.0 L1439.8,1110.5 L1440.6,1113.9 L1441.5,1117.3 L1442.4,1120.7 L1443.2,1124.1 L1444.1,1127.5 L1445.0,1130.9 L1445.9,1134.3 L1446.7,1137.8 L1447.6,1141.2 L1448.5,1144.6 L1449.3,1148.0 L1450.2,1151.4 L1451.1,1154.8 L1451.9,1158.2 L1452.8,1161.6 L1453.7,1165.0 L1454.5,1168.4 L1455.4,1171.9 L1456.2,1175.3 L1457.0,1178.7 L1457.9,1182.1 L1458.7,1185.5 L1459.5,1188.9 L1460.3,1192.3 L1461.1,1195.8 L1461.9,1199.2 L1462.8,1202.6 L1463.6,1206.0 L1464.4,1209.4 L1465.2,1212.9 L1466.0,1216.3 L1466.9,1219.7 L1467.7,1223.1 L1468.6,1226.5 L1469.5,1229.9 L1470.4,1233.3 L1471.3,1236.7 L1472.3,1240.1 L1473.3,1243.5 L1474.3,1246.9 L1475.3,1250.2 L1476.4,1253.6 L1477.5,1256.9 L1478.7,1260.3 L1479.8,1263.6 L1481.1,1267.0 L1482.3,1270.3 L1483.5,1273.6 L1484.8,1276.9 L1486.1,1280.2 L1487.4,1283.5 L1488.8,1286.8 L1490.1,1290.1 L1491.5,1293.3 L1492.9,1296.6 L1494.3,1299.9 L1495.7,1303.1 L1497.1,1306.3 L1498.5,1309.6 L1500.0,1312.8 L1501.4,1316.0 L1502.9,1319.2 L1504.3,1322.4 L1505.8,1325.5 L1507.2,1328.7 L1508.7,1331.9 L1510.1,1335.0 L1511.5,1338.1 L1513.0,1341.3 L1514.5,1344.4 L1516.0,1347.4 L1517.6,1350.5 L1519.2,1353.5 L1520.9,1356.4 L1522.8,1359.4 L1524.7,1362.2 L1526.8,1365.0 L1529.1,1367.8 L1531.5,1370.4 L1534.1,1373.0 L1536.8,1375.6 L1539.8,1378.0 L1542.8,1380.2 L1546.0,1382.4 L1549.3,1384.3 L1552.6,1386.1 L1556.0,1387.6 L1559.4,1388.9 L1562.8,1389.9 L1566.1,1390.7 L1569.5,1391.2 L1572.9,1391.5 L1576.2,1391.5 L1579.6,1391.4 L1582.9,1391.0 L1586.2,1390.5 L1589.6,1389.9 L1592.9,1389.1 L1596.2,1388.2 L1599.5,1387.2 L1602.9,1386.1 L1606.2,1384.9 L1609.5,1383.7 L1612.8,1382.4 L1616.2,1381.2 L1619.5,1379.9 L1622.9,1378.6 L1626.3,1377.3 L1629.6,1376.1 L1633.0,1374.9 L1636.4,1373.8 L1639.8,1372.6 L1643.2,1371.6 L1646.6,1370.5 L1650.0,1369.6 L1653.5,1368.6 L1656.9,1367.8 L1660.3,1367.0 L1663.8,1366.2 L1667.2,1365.5 L1670.6,1365.0 L1674.1,1364.4 L1677.6,1364.0 L1681.0,1363.6 L1684.5,1363.4 L1687.9,1363.2 L1691.4,1363.1 L1694.8,1363.1 L1698.3,1363.2 L1701.8,1363.5 L1705.2,1363.8 L1708.7,1364.2 L1712.2,1364.8 L1715.6,1365.5 L1719.1,1366.3 L1722.5,1367.2 L1726.0,1368.3 L1729.4,1369.5 L1732.9,1370.8 L1734.0,1371.3" fill="none" stroke="#dcaa46" stroke-width="5.0" stroke-linejoin="round" stroke-linecap="round"/></g>
<g font-family="Liberation Sans, Arial, sans-serif" fill="#000">
<text x="199.30" y="1446.00" font-size="57">0</text>
<text x="199.30" y="1105.65" font-size="57">5</text>
<text x="167.60" y="765.30" font-size="57" clip-path="url(#c1)">10</text>
<text x="167.60" y="424.95" font-size="57" clip-path="url(#c2)">15</text>
<text x="167.60" y="84.60" font-size="57">20</text>
<text x="236.18" y="1519.00" font-size="57" clip-path="url(#c3)">0.1</text>
<text x="680.93" y="1519.00" font-size="57" clip-path="url(#c4)">1</text>
<text x="1086.06" y="1519.00" font-size="57" clip-path="url(#c5)">10</text>
<text x="1491.19" y="1519.00" font-size="57" clip-path="url(#c6)">100</text>
<text x="1896.32" y="1519.00" font-size="57" clip-path="url(#c7)">1000</text>
<line x1="333" y1="111.3" x2="496.4" y2="111.3" stroke="#000000" stroke-width="5.5"/>
<text x="511" y="135.8" font-size="74" textLength="294.3" lengthAdjust="spacingAndGlyphs">Raw EZT</text>
<line x1="333" y1="197.3" x2="496.4" y2="197.3" stroke="#d64a4c" stroke-width="7"/>
<text x="511" y="222.6" font-size="72" textLength="516.5" lengthAdjust="spacingAndGlyphs">Spray-dried EZT</text>
<line x1="333" y1="284.0" x2="496.4" y2="284.0" stroke="#750ae0" stroke-width="6.5"/>
<text x="511" y="309.4" font-size="72">EZT-PVP/VA 5%</text>
<line x1="333" y1="371.0" x2="496.4" y2="371.0" stroke="#d4107a" stroke-width="6"/>
<text x="511" y="396.2" font-size="72">EZT-PVP/VA 40%</text>
<line x1="333" y1="457.8" x2="496.4" y2="457.8" stroke="#1b861b" stroke-width="5.5"/>
<text x="511" y="483.0" font-size="72">EZT-PVP/VA 50%</text>
<line x1="333" y1="545.0" x2="496.4" y2="545.0" stroke="#dcaa46" stroke-width="4.5"/>
<text x="511.00" y="569.80" font-size="72" clip-path="url(#c8)">EZT-PVP/VA 91%</text>
<text font-size="72" x="1119.5" y="1636.2" text-anchor="middle" textLength="548.7" lengthAdjust="spacingAndGlyphs">Particle size (<tspan font-family="Liberation Serif, serif">μ</tspan>m)</text>
<text font-size="72" transform="translate(88.9,711.7) rotate(-90)" text-anchor="middle">Volume (%)</text>
</g></svg></body></html>
